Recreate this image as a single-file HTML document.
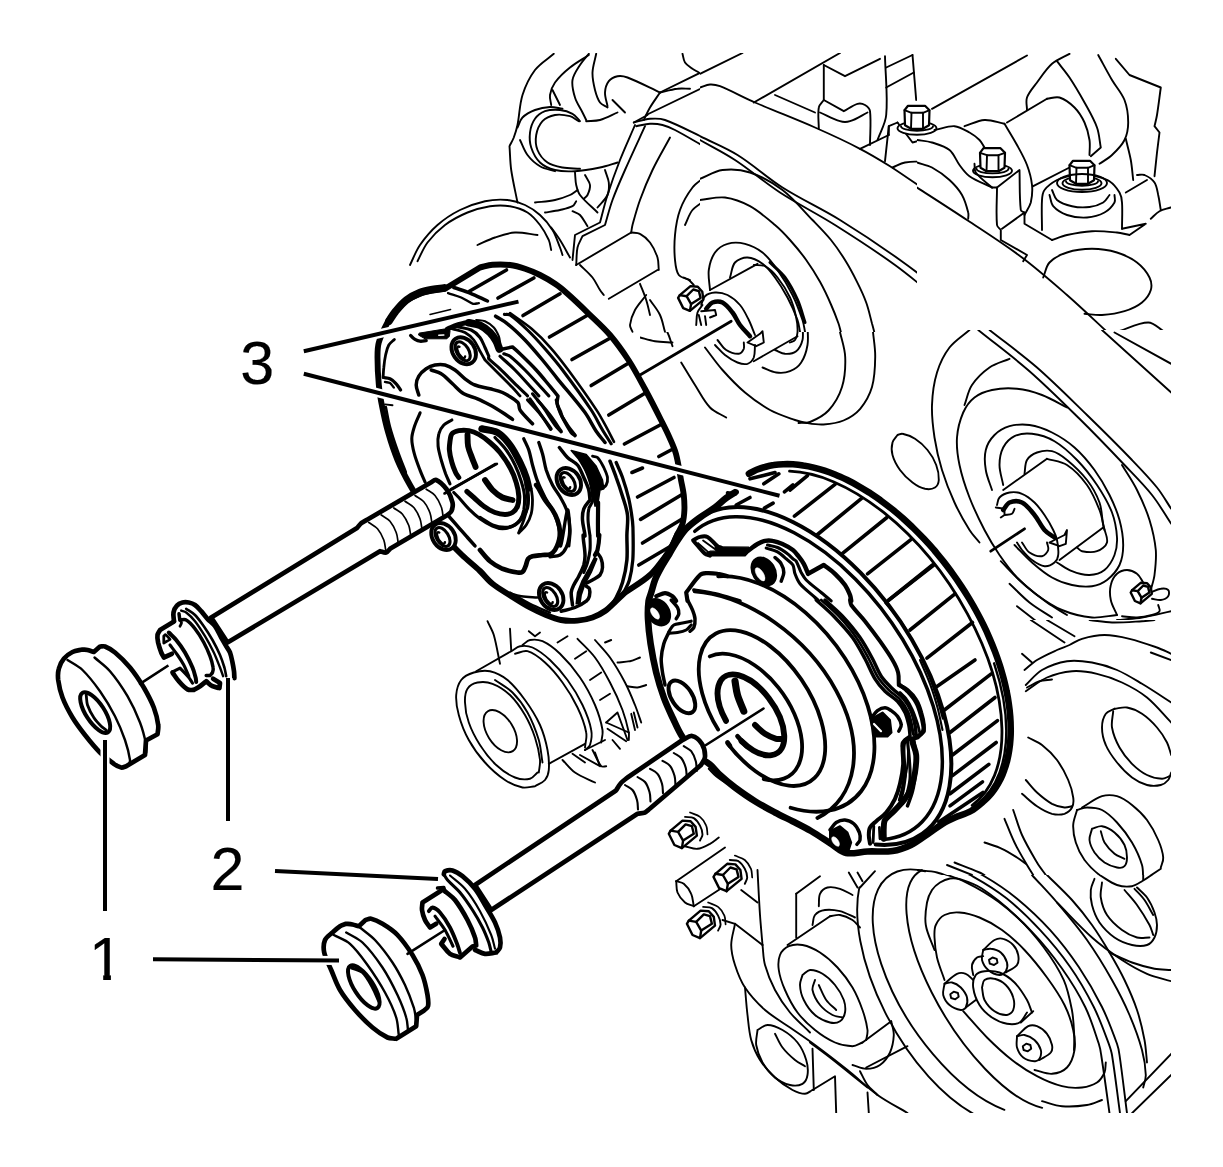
<!DOCTYPE html>
<html><head><meta charset="utf-8"><title>Camshaft sprocket illustration</title>
<style>
html,body{margin:0;padding:0;background:#fff;}
body{width:1223px;height:1167px;overflow:hidden;}
svg{display:block;}
svg text{font-family:"Liberation Sans",sans-serif;fill:#000;stroke:#000;stroke-width:0.15px;}
svg path,svg line,svg ellipse{stroke-linecap:round;stroke-linejoin:round;}
</style></head><body>
<svg width="1223" height="1167" viewBox="0 0 1223 1167">
<rect width="1223" height="1167" fill="#fff"/>
<clipPath id="frame"><rect x="0" y="53" width="1171" height="1060"/></clipPath>
<g clip-path="url(#frame)">
<clipPath id="c1"><rect x="380" y="40" width="320" height="300"/></clipPath>
<g clip-path="url(#c1)">
<path d="M553.8 53.8C547.5 59.2 539.9 63.5 535 70C529.5 77.3 525.3 86.2 522.5 95C519.5 104.6 519.5 115.1 517.5 125C516.6 129.3 515.3 133.4 513.8 137.5C512.6 140.5 510.9 143.3 509.5 146.2C510.1 154.2 510.1 162.2 511.2 170C512.8 180.9 515.4 191.7 517.5 202.5" fill="none" stroke="#000" stroke-width="1.9"/>
<path d="M517.5 127.5C519.2 124.2 520 120 522.5 117.5C525.8 114.2 530.5 111.7 535 110C539.7 108.2 545 107.2 550 107C554.1 106.8 558.3 108.2 562.5 108.8" fill="none" stroke="#000" stroke-width="1.9"/>
<path d="M580 121.2C577.5 118.8 575.5 115.4 572.5 113.8C568.8 111.7 564.3 110.4 560 110C555.1 109.6 549.6 109.7 545 111.2C541.2 112.6 537.3 115.5 535 118.8C532.3 122.6 530.6 127.8 530 132.5C529.4 137.4 529.7 142.9 531.2 147.5C533 152.9 536 158.7 540 162.5C543.9 166.2 549.7 168.7 555 170C561.4 171.6 568.4 171.6 575 171.2C583.4 170.8 591.8 169.2 600 167.5C605.9 166.3 611.7 164.2 617.5 162.5" fill="none" stroke="#000" stroke-width="1.9"/>
<path d="M578.8 121.2C575.8 119.6 573.2 117.1 570 116.2C565.3 115 559.8 114.1 555 115C550.6 115.8 545.5 118 542.5 121.2C539.3 124.7 537.1 130.2 536.2 135C535.4 139.8 535.7 145.6 537.5 150C539.4 154.7 543.3 159.6 547.5 162.5C551.6 165.4 557.4 166.5 562.5 167.5C568.2 168.6 574.2 168.3 580 168.8" fill="none" stroke="#000" stroke-width="1.9"/>
<path d="M520 140C522.5 145 524.2 150.6 527.5 155C530.8 159.4 535.3 163.5 540 166.2C544.4 168.9 550 169.6 555 171.2" fill="none" stroke="#000" stroke-width="1.9"/>
<path d="M588.8 53.8C585.8 57.5 582.5 61 580 65C577.1 69.7 573.3 74.7 572.5 80C571.6 85.6 573.3 91.9 575 97.5C576.6 102.8 580 107.5 582.5 112.5C583.8 115 585 117.5 586.2 120" fill="none" stroke="#000" stroke-width="1.9"/>
<path d="M588.8 55C582.5 59.2 575.8 62.8 570 67.5C564.5 71.9 559.1 76.9 555 82.5C552.4 86.1 550.7 90.7 550 95C549.5 98.2 550.8 101.7 551.2 105" fill="none" stroke="#000" stroke-width="1.9"/>
<path d="M596.2 53.8C595 60 592.7 66.2 592.5 72.5C592.3 78.3 593.6 84.3 595 90C596.1 94.3 597.5 99 600 102.5C601.7 104.8 605 105.8 607.5 107.5" fill="none" stroke="#000" stroke-width="1.9"/>
<path d="M552.5 90L560 105" fill="none" stroke="#000" stroke-width="1.9"/>
<path d="M586.2 121.2C590.8 120.8 595.6 121.2 600 120C606 118.3 611.7 115 617.5 112.5" fill="none" stroke="#000" stroke-width="1.9"/>
<path d="M607.5 106.2C606.7 101.7 604.8 97 605 92.5C605.2 88.7 606.5 84.2 608.8 81.2C610.7 78.8 614.4 76.9 617.5 76.2C620.6 75.6 624.4 76.3 627.5 77.5C638.6 81.7 649.2 87.5 660 92.5" fill="none" stroke="#000" stroke-width="1.9"/>
<path d="M612.5 100C615 102.5 617.5 105 620 107.5C621.7 109.2 623.3 110.8 625 112.5" fill="none" stroke="#000" stroke-width="1.9"/>
<path d="M682.5 53.8C683.3 56.7 683.4 60.1 685 62.5C686.7 65.1 689.9 66.8 692.5 68.8C694.5 70.2 696.7 71.2 698.8 72.5" fill="none" stroke="#000" stroke-width="1.9"/>
<path d="M660 92.5L705.8 70" fill="none" stroke="#000" stroke-width="1.9"/>
<path d="M660 92.5C656.7 97.5 653.1 102.3 650 107.5C647.6 111.5 645.8 115.8 643.8 120" fill="none" stroke="#000" stroke-width="1.9"/>
<path d="M660 92.5C665.8 91.2 671.6 89.5 677.5 88.8C681.6 88.2 685.8 88.8 690 88.8" fill="none" stroke="#000" stroke-width="1.9"/>
<path d="M646.2 115L705.8 86.2" fill="none" stroke="#000" stroke-width="1.9"/>
<path d="M633.8 122.5L647.5 115" fill="none" stroke="#000" stroke-width="1.9"/>
<path d="M633.8 122.5C639.2 121.2 644.5 119.2 650 118.8C654.9 118.4 660.3 118.3 665 120C678.9 125 692.2 132.5 705.8 138.8" fill="none" stroke="#000" stroke-width="1.9"/>
<path d="M636.2 126.2C640.8 125.4 645.4 124 650 123.8C654.1 123.6 658.5 124 662.5 125C666.8 126.1 671 127.9 675 130C685.4 135.4 695.5 141.7 705.8 147.5" fill="none" stroke="#000" stroke-width="1.9"/>
<path d="M635 125C630 136.7 624.6 148.2 620 160C615.5 171.5 611.3 183.2 607.5 195C604.6 204 602.5 213.3 600 222.5L575 235L572.5 260" fill="none" stroke="#000" stroke-width="1.9"/>
<path d="M645 126.2C638.3 140.8 631.5 155.3 625 170C620.6 179.9 616.2 189.8 612.5 200C609.5 208.2 607.5 216.7 605 225L582.5 236.2C580.8 240 578.4 243.5 577.5 247.5C576.3 253.1 576.7 259.2 576.2 265" fill="none" stroke="#000" stroke-width="1.9"/>
<path d="M670 137.5C664.2 148.3 657.8 158.9 652.5 170C647.8 179.8 643.7 189.8 640 200C637 208.2 634.8 216.6 632.5 225C631.8 227.4 631.7 230 631.2 232.5" fill="none" stroke="#000" stroke-width="1.9"/>
<path d="M576.2 265L631.2 232.5" fill="none" stroke="#000" stroke-width="1.9"/>
<path d="M631.2 232.5C634.2 232.9 637.5 232.4 640 233.8C643.8 235.8 647.4 239 650 242.5C653.3 246.9 655.8 252.3 657.5 257.5C658.7 261.4 658.3 265.8 658.8 270" fill="none" stroke="#000" stroke-width="1.9"/>
<path d="M608.8 298.8L657.5 270" fill="none" stroke="#000" stroke-width="1.9"/>
<path d="M580 265C584.2 269.2 588.8 272.9 592.5 277.5C595.5 281.3 597.4 285.9 600 290C601.1 291.8 602.5 293.3 603.8 295" fill="none" stroke="#000" stroke-width="1.9"/>
<path d="M575 172.5C575.4 176.7 575.3 180.9 576.2 185C577 188.4 577.9 192.2 580 195C584.9 201.4 591.7 206.7 597.5 212.5" fill="none" stroke="#000" stroke-width="1.9"/>
<path d="M585 175C586.7 178.3 589.6 181.5 590 185C590.4 188.2 588.9 192 587.5 195C586.8 196.6 585 197.5 583.8 198.8" fill="none" stroke="#000" stroke-width="1.9"/>
<path d="M605 170C606.2 174.2 608.3 178.3 608.8 182.5C609.2 186.6 609.1 191.3 607.5 195C605.4 199.7 600.8 203.3 597.5 207.5" fill="none" stroke="#000" stroke-width="1.9"/>
<path d="M535 202.5C541.7 201.7 548.5 201.4 555 200C560.1 198.9 565.2 197.1 570 195C572.7 193.8 575 191.7 577.5 190" fill="none" stroke="#000" stroke-width="1.9"/>
<path d="M545 212.5C550 211.7 555.1 211.1 560 210C564.2 209 568.8 208.2 572.5 206.2C574.3 205.3 575 202.9 576.2 201.2" fill="none" stroke="#000" stroke-width="1.9"/>
<path d="M572.5 211.2C575 212.5 578.1 213.1 580 215C583.1 218.1 585 222.5 587.5 226.2" fill="none" stroke="#000" stroke-width="1.9"/>
<path d="M410 265C413.3 258.3 415.8 251.1 420 245C425 237.8 430.9 230.8 437.5 225C444.2 219.1 452 214 460 210C467.8 206.1 476.4 203.1 485 201.2C492.3 199.7 500.1 199.3 507.5 200C513.5 200.6 519.6 202.5 525 205C530.4 207.5 535.6 211 540 215C544.8 219.3 549.1 224.5 552.5 230C555.8 235.3 557.6 241.6 560 247.5C561 249.9 561.7 252.5 562.5 255" fill="none" stroke="#000" stroke-width="1.9"/>
<path d="M417.5 261.2C420.8 255 423.3 248.1 427.5 242.5C432.4 236 438.5 229.9 445 225C451.8 219.9 459.6 215.8 467.5 212.5C474.6 209.5 482.4 207.4 490 206.2C496.5 205.3 503.5 205.2 510 206.2C516 207.3 522.4 209.3 527.5 212.5C532.4 215.5 536.4 220.4 540 225C543.5 229.5 546.4 234.8 548.8 240C550.1 243.1 550.4 246.7 551.2 250" fill="none" stroke="#000" stroke-width="1.9"/>
<path d="M477.5 245C483.3 242.5 489 239.5 495 237.5C501.5 235.3 508.2 232.9 515 232.5C522.4 232.1 530 234.2 537.5 235" fill="none" stroke="#000" stroke-width="1.9"/>
<path d="M551.2 227.5C554.2 231.7 557.3 235.7 560 240C563.6 245.7 566.7 251.7 570 257.5" fill="none" stroke="#000" stroke-width="1.9"/>
<path d="M705.8 176.2C701.3 180 696 183 692.5 187.5C687.4 194.2 682.9 202 680 210C677.1 217.9 675.8 226.6 675 235C674.2 243.3 674.2 251.8 675 260C675.5 265.1 676 271.3 678.8 275C681 278 686.2 278.3 690 280" fill="none" stroke="#000" stroke-width="1.9"/>
<path d="M705.8 200C701.3 203.3 695.9 205.9 692.5 210C689 214.2 687.5 220 685 225" fill="none" stroke="#000" stroke-width="1.9"/>
<path d="M640 283.8C642.1 289.2 644.5 294.5 646.2 300C647.8 304.9 648.8 310 650 315" fill="none" stroke="#000" stroke-width="1.9"/>
<path d="M646.2 295C642.5 300 637.9 304.6 635 310C632.5 314.6 630.6 320 630 325C629.7 327.3 631.7 329.5 632.5 331.8" fill="none" stroke="#000" stroke-width="1.9"/>
<path d="M650 300C653.3 305 657.5 309.6 660 315C662.5 320.2 663.3 326.2 665 331.8" fill="none" stroke="#000" stroke-width="1.9"/>
</g>
<clipPath id="c2"><rect x="700" y="40" width="217" height="292"/></clipPath>
<g clip-path="url(#c2)">
<path d="M700 73.8L742.5 53" fill="none" stroke="#000" stroke-width="1.9"/>
<path d="M700 87.5C703.3 86.5 706.6 84.7 710 84.5C713.3 84.3 716.9 85 720 86.2C731.9 91 743.2 97.4 755 102.5C774.9 111.1 795.2 118.8 815 127.5C830.2 134.2 845.3 141.1 860 148.8C870.3 154.1 880.2 160.1 890 166.2C901.9 173.8 913.4 182 925 190C938.4 199.1 952 207.9 965 217.5C978.9 227.9 992.2 239.2 1005.8 250" fill="none" stroke="#000" stroke-width="1.9"/>
<path d="M753.8 102.5L840 53" fill="none" stroke="#000" stroke-width="1.9"/>
<path d="M775 95L815 112.5" fill="none" stroke="#000" stroke-width="1.9"/>
<path d="M700 136.2C712.5 142.5 725.7 147.6 737.5 155C753.2 164.7 766.9 177.6 782.5 187.5C801.1 199.3 821.3 208.4 840 220C860.4 232.6 880.5 246 900 260C915.5 271 930.5 282.7 945 295C958.7 306.6 971.3 319.5 984.5 331.8" fill="none" stroke="#000" stroke-width="1.9"/>
<path d="M700 140C711.7 146.7 723.8 152.6 735 160C750.4 170.1 764.5 182.4 780 192.5C797.8 204.1 817 213.6 835 225C855.3 237.8 875.6 250.9 895 265C910.6 276.3 925.3 288.9 940 301.2C951.8 311.1 963 321.6 974.5 331.8" fill="none" stroke="#000" stroke-width="1.9"/>
<path d="M823.8 65L823.8 100" fill="none" stroke="#000" stroke-width="1.9"/>
<path d="M823.8 65L845 76.2L880 58.8" fill="none" stroke="#000" stroke-width="1.9"/>
<path d="M885 56.2C885.4 75.8 888 95.8 886.2 115C885.5 123.7 880.4 131.7 877.5 140" fill="none" stroke="#000" stroke-width="1.9"/>
<path d="M886.2 67.5L912.5 55" fill="none" stroke="#000" stroke-width="1.9"/>
<path d="M886.2 87.5L913.8 72.5" fill="none" stroke="#000" stroke-width="1.9"/>
<path d="M912.5 55L916.2 100" fill="none" stroke="#000" stroke-width="1.9"/>
<path d="M818.8 128.8C818.8 121.7 817.6 114.2 818.8 107.5C819.2 104.6 822.1 102.5 823.8 100L843.8 111.2C848.3 108.8 852.7 105.2 857.5 103.8C859.8 103.1 863 103.8 865 105C867.1 106.3 869.7 108.7 870 111.2C871.3 122 870 133.8 870 145" fill="none" stroke="#000" stroke-width="1.9"/>
<path d="M820 112.5C826.7 115.4 833.1 119.2 840 121.2C843.1 122.2 846.9 122.2 850 121.2C856.1 119.3 861.7 115.4 867.5 112.5" fill="none" stroke="#000" stroke-width="1.9"/>
<path d="M860 148.8L888.8 135" fill="none" stroke="#000" stroke-width="1.9"/>
<path d="M888.8 135L888.8 126.2L897.5 122.5" fill="none" stroke="#000" stroke-width="1.9"/>
<path d="M888.8 126.2L885 161.2" fill="none" stroke="#000" stroke-width="1.9"/>
<path d="M897.5 122.5L912.5 142.5C918.3 141.2 924.4 138 930 138.8C936.9 139.7 944.5 143.2 950 147.5C954.5 151.1 956.3 157.8 960 162.5C962.9 166.2 966.1 169.9 970 172.5C977.8 177.8 986.7 181.7 995 186.2L1005.8 180" fill="none" stroke="#000" stroke-width="1.9"/>
<path d="M935 128.8C942.5 127.9 950.2 125.5 957.5 126.2C962.7 126.8 968.3 129.4 972.5 132.5C976.6 135.6 979.4 140.7 982.5 145C983.6 146.5 984.2 148.3 985 150" fill="none" stroke="#000" stroke-width="1.9"/>
<path d="M965 126.2C970.8 124.2 976.5 120.4 982.5 120C990.1 119.5 998 122.5 1005.8 123.8" fill="none" stroke="#000" stroke-width="1.9"/>
<path d="M932.5 110L1005.8 67.5" fill="none" stroke="#000" stroke-width="1.9"/>
<path d="M892.5 167.5C896.7 165.8 900.7 163.2 905 162.5C910.7 161.6 917.1 161 922.5 162.5C928.7 164.3 934.8 168.4 940 172.5C946.4 177.6 952.4 183.6 957.5 190C961.6 195.2 965.2 201.3 967.5 207.5C968.9 211.3 968.3 215.8 968.8 220" fill="none" stroke="#000" stroke-width="1.9"/>
<path d="M996.2 186.2C996.2 199.2 993.8 213.6 996.2 225C996.9 228.2 1002.6 228.3 1005.8 230" fill="none" stroke="#000" stroke-width="1.9"/>
<path d="M700 178.8C707.5 175.8 714.7 171 722.5 170C731.4 168.9 741.4 169.6 750 172.5C761.4 176.3 772.8 182.6 782.5 190C793.6 198.5 802.7 209.9 812.5 220C818.8 226.5 825.3 233 831 240C836.1 246.3 840.7 253.1 845 260C849.4 267 853.3 274.4 857 281.8C860.4 288.5 863.7 295.4 866.2 302.5C868.7 309.3 870.1 316.5 872 323.5C872.8 326.2 873.5 329 874.2 331.8" fill="none" stroke="#000" stroke-width="1.9"/>
<path d="M700 200C708.3 199.2 716.9 196.5 725 197.5C733.6 198.6 742.4 202 750 206.2C759 211.2 767.1 218.3 775 225C780.4 229.5 785.3 234.7 790 240C795.7 246.4 801.2 253 806.2 260C811.2 267 815.8 274.3 820 281.8C824.2 289.3 827.8 297.1 831.2 305C833.9 311.1 836.3 317.3 838.5 323.5C839.5 326.2 840 329 840.8 331.8" fill="none" stroke="#000" stroke-width="1.9"/>
<path d="M710 290C709.6 283.3 707.9 276.5 708.8 270C709.6 264 711.6 257.3 715 252.5C717.8 248.6 722.8 245.1 727.5 243.8C732.8 242.2 739.5 242.4 745 243.8C751.2 245.3 757.5 248.5 762.5 252.5C768.4 257.2 773.1 263.7 777.5 270C783.1 277.9 788.2 286.3 792.5 295C796.5 303 799.6 311.5 802.5 320C803.8 323.8 804.2 327.8 805 331.8" fill="none" stroke="#000" stroke-width="1.9"/>
<path d="M730 277.5C731.7 272.5 731.8 266.1 735 262.5C737.7 259.4 743.3 257.3 747.5 257.5C752.5 257.7 758.2 260.6 762.5 263.8C767.4 267.3 771.3 272.5 775 277.5C779.7 283.8 783.8 290.6 787.5 297.5C791.3 304.7 794.7 312.3 797.5 320C798.9 323.7 799.2 327.8 800 331.8" fill="none" stroke="#000" stroke-width="1.9"/>
<path d="M710 290L757.5 263.8" fill="none" stroke="#000" stroke-width="1.9"/>
</g>
<ellipse cx="917" cy="128.2" rx="19.5" ry="6.5" transform="rotate(0 917 128.2)" fill="#fff" stroke="#000" stroke-width="1.9"/>
<path d="M901 126.2A16 4.6 0 0 0 933 126.2" fill="none" stroke="#000" stroke-width="1.9"/>
<path d="M905 125.2L904.5 110.2L908 105.8L925 105.8L929.5 110.2L929 125.2L923 128.8L911 128.8Z" fill="#fff" stroke="#000" stroke-width="2.2"/>
<path d="M904.5 110.2L911.5 112.8L923 112.8L929.5 110.2" fill="none" stroke="#000" stroke-width="1.9"/>
<path d="M911.5 112.8L911 128.8" fill="none" stroke="#000" stroke-width="1.9"/>
<path d="M923 112.8L923 128.8" fill="none" stroke="#000" stroke-width="1.9"/>
<ellipse cx="992.5" cy="170.8" rx="19.5" ry="6.5" transform="rotate(0 992.5 170.8)" fill="#fff" stroke="#000" stroke-width="1.9"/>
<path d="M976.5 168.8A16 4.6 0 0 0 1008.5 168.8" fill="none" stroke="#000" stroke-width="1.9"/>
<path d="M980.5 167.8L980 152.8L983.5 148.2L1000.5 148.2L1005 152.8L1004.5 167.8L998.5 171.2L986.5 171.2Z" fill="#fff" stroke="#000" stroke-width="2.2"/>
<path d="M980 152.8L987 155.2L998.5 155.2L1005 152.8" fill="none" stroke="#000" stroke-width="1.9"/>
<path d="M987 155.2L986.5 171.2" fill="none" stroke="#000" stroke-width="1.9"/>
<path d="M998.5 155.2L998.5 171.2" fill="none" stroke="#000" stroke-width="1.9"/>
<clipPath id="c3"><rect x="917" y="40" width="306" height="290"/></clipPath>
<g clip-path="url(#c3)">
<path d="M932 108.8L1027 55.5" fill="none" stroke="#000" stroke-width="1.9"/>
<path d="M917 140C922 140.8 927.2 141 932 142.5C938 144.4 944.8 146.1 949.5 150C954 153.6 955.9 160.2 959.5 165C962.5 169 965.4 173.4 969.5 176.2C976.3 180.9 984.5 183.8 992 187.5" fill="none" stroke="#000" stroke-width="1.9"/>
<path d="M964.5 126.2C971.2 124.2 977.7 120.4 984.5 120C991.1 119.6 997.8 122.5 1004.5 123.8" fill="none" stroke="#000" stroke-width="1.9"/>
<path d="M934.5 130C941.2 128.8 948 125.8 954.5 126.2C959.7 126.6 964.8 129.9 969.5 132.5C973.1 134.5 976.6 137.1 979.5 140C981.6 142.1 982.8 145 984.5 147.5" fill="none" stroke="#000" stroke-width="1.9"/>
<path d="M917 187.5C933.7 198.3 950.5 209 967 220C985.5 232.3 1004.3 244.2 1022 257.5C1037.6 269.2 1052.3 282.2 1067 295C1080.6 306.9 1093.7 319.5 1107 331.8" fill="none" stroke="#000" stroke-width="1.9"/>
<path d="M917 162.5C922 164.2 927.4 165 932 167.5C938.2 170.9 944.3 175.2 949.5 180C954.3 184.4 958.8 189.4 962 195C965 200.3 966.7 206.6 968.2 212.5C968.8 214.5 968.2 216.7 968.2 218.8" fill="none" stroke="#000" stroke-width="1.9"/>
<path d="M992 187.5L997 187.5C997 200 995.9 212.9 997 225C997.2 227 999.5 228.3 1000.8 230L1000.8 240L1027 255L1023.2 261.2" fill="none" stroke="#000" stroke-width="1.9"/>
<path d="M997 187.5L1019.5 170C1019.9 183.3 1019.3 197.3 1020.8 210C1020.9 211.4 1023.2 211.7 1024.5 212.5" fill="none" stroke="#000" stroke-width="1.9"/>
<path d="M1002 228.8L1024.5 212.5L1024.5 223.8L1052 240" fill="none" stroke="#000" stroke-width="1.9"/>
<path d="M974.5 163.8C974.9 166.7 974.1 170.2 975.8 172.5C979.9 178.2 986.6 182.5 992 187.5" fill="none" stroke="#000" stroke-width="1.9"/>
<path d="M1004.5 123.8C1008.7 130.8 1013.1 137.8 1017 145C1020.6 151.5 1024.4 158.1 1027 165C1029.4 171.4 1031.3 178.2 1032 185C1032.6 190.7 1032.1 196.9 1030.8 202.5C1029.6 206.9 1026.6 210.8 1024.5 215" fill="none" stroke="#000" stroke-width="1.9"/>
<path d="M1007 122.5L1047 98.8" fill="none" stroke="#000" stroke-width="1.9"/>
<path d="M1047 98.8C1051.2 98.3 1055.7 96.3 1059.5 97.5C1064.9 99.2 1070.3 103.3 1074.5 107.5C1078.7 111.7 1082 117.1 1084.5 122.5C1087 127.9 1088.6 134.1 1089.5 140C1090.3 144.9 1089.5 150 1089.5 155" fill="none" stroke="#000" stroke-width="1.9"/>
<path d="M1033.2 186.2L1069.5 167.5" fill="none" stroke="#000" stroke-width="1.9"/>
<path d="M1027 110C1027 105.8 1025.6 101.3 1027 97.5C1029 92.1 1033.4 87.3 1037 82.5C1041.8 76.1 1046.1 69 1052 63.8C1056.9 59.4 1063.7 57.1 1069.5 53.8" fill="none" stroke="#000" stroke-width="1.9"/>
<path d="M1057 61.2C1061.2 66.7 1065.7 71.8 1069.5 77.5C1074.9 85.6 1079.8 94 1084.5 102.5C1089 110.7 1093.9 118.8 1097 127.5C1099.3 133.8 1099.5 140.8 1100.8 147.5L1090.8 156.2" fill="none" stroke="#000" stroke-width="1.9"/>
<path d="M1098.2 55C1102.8 63.3 1107.2 71.8 1112 80C1116 86.8 1121.7 92.8 1124.5 100C1127.2 107 1128.2 115 1128.2 122.5C1128.2 128.4 1127.1 134.8 1124.5 140C1121.7 145.7 1116.7 150.6 1112 155C1108.3 158.5 1103.7 160.8 1099.5 163.8" fill="none" stroke="#000" stroke-width="1.9"/>
<path d="M1115.8 58.8L1129.5 75L1160.8 87.5C1159.5 96.7 1158.5 105.9 1157 115C1156.4 118.8 1155.3 122.5 1154.5 126.2L1159.5 132.5C1158.7 139.2 1157.8 145.8 1157 152.5C1156.1 160.4 1155.3 168.3 1154.5 176.2" fill="none" stroke="#000" stroke-width="1.9"/>
<path d="M1125.8 138.8C1127.4 145.8 1129.5 152.9 1130.8 160C1132 166.6 1132.4 173.3 1133.2 180" fill="none" stroke="#000" stroke-width="1.9"/>
<path d="M1125.8 192.5L1147 180" fill="none" stroke="#000" stroke-width="1.9"/>
<path d="M1137 175C1139.5 175 1142.3 174.1 1144.5 175C1148.1 176.6 1152.3 179.2 1154.5 182.5C1156.8 185.9 1157.3 190.8 1158.2 195C1159.4 199.9 1159.9 205 1160.8 210" fill="none" stroke="#000" stroke-width="1.9"/>
<path d="M1150.8 218.8C1153.7 216.2 1156.2 213.1 1159.5 211.2C1162.9 209.3 1167 208.8 1170.8 207.5" fill="none" stroke="#000" stroke-width="1.9"/>
<path d="M1042 230C1042 220 1041.4 209.9 1042 200C1042.2 196.6 1042.5 192.6 1044.5 190C1047.5 185.9 1052.4 182.5 1057 180C1061.6 177.5 1067 176.7 1072 175" fill="none" stroke="#000" stroke-width="1.9"/>
<path d="M1092 175C1097.8 177.1 1104.4 178 1109.5 181.2C1113.6 183.9 1117 188.3 1119.5 192.5C1121.2 195.4 1121.8 199.1 1122 202.5C1122.6 211.2 1122 220 1122 228.8" fill="none" stroke="#000" stroke-width="1.9"/>
<path d="M1049.5 195C1050.8 198.8 1050.8 203.4 1053.2 206.2C1056.6 210.1 1062 213.3 1067 215C1073.2 217.1 1080.4 217.9 1087 217.5C1092.9 217.1 1099.3 215.3 1104.5 212.5C1108.5 210.3 1112.3 206.3 1114.5 202.5C1115.7 200.5 1114.5 197.5 1114.5 195" fill="none" stroke="#000" stroke-width="1.9"/>
<path d="M1052 190C1053.7 193.3 1054.3 197.8 1057 200C1060.9 203.2 1066.8 205.1 1072 206.2C1077.6 207.5 1083.8 207.7 1089.5 207C1094.2 206.4 1099.3 204.9 1103.2 202.5C1105.9 200.9 1107.4 197.5 1109.5 195" fill="none" stroke="#000" stroke-width="1.9"/>
<path d="M1052 240C1057 238.3 1061.9 236.1 1067 235C1075.2 233.2 1083.6 231.7 1092 231.2C1100.3 230.8 1108.7 231.7 1117 232.5C1121.2 232.9 1125.3 234.2 1129.5 235L1145.8 223.8L1122 228.8" fill="none" stroke="#000" stroke-width="1.9"/>
<path d="M1043.2 277.5C1045.3 272.5 1046 266.2 1049.5 262.5C1053.9 257.9 1060.7 254.5 1067 252.5C1074.9 249.9 1083.7 248.8 1092 248.8C1100.3 248.8 1109 250.1 1117 252.5C1124 254.7 1131.2 258.1 1137 262.5C1142.1 266.4 1146.7 271.9 1149.5 277.5C1151.3 281.1 1151.9 286.2 1150.8 290C1149.4 294.6 1145.8 299.4 1142 302.5C1137.1 306.5 1130.7 309.3 1124.5 311.2C1117.3 313.5 1109.5 314.5 1102 315C1096.2 315.4 1090.3 314.2 1084.5 313.8" fill="none" stroke="#000" stroke-width="1.9"/>
<path d="M1117 331.8C1127.4 328.7 1138.2 322.5 1148.2 322.5C1154 322.5 1159.1 328.7 1164.5 331.8" fill="none" stroke="#000" stroke-width="1.9"/>
</g>
<ellipse cx="1082" cy="183.2" rx="19.5" ry="6.5" transform="rotate(0 1082 183.2)" fill="#fff" stroke="#000" stroke-width="1.9"/>
<path d="M1066 181.2A16 4.6 0 0 0 1098 181.2" fill="none" stroke="#000" stroke-width="1.9"/>
<path d="M1070 180.2L1069.5 165.2L1073 160.8L1090 160.8L1094.5 165.2L1094 180.2L1088 183.8L1076 183.8Z" fill="#fff" stroke="#000" stroke-width="2.2"/>
<path d="M1069.5 165.2L1076.5 167.8L1088 167.8L1094.5 165.2" fill="none" stroke="#000" stroke-width="1.9"/>
<path d="M1076.5 167.8L1076 183.8" fill="none" stroke="#000" stroke-width="1.9"/>
<path d="M1088 167.8L1088 183.8" fill="none" stroke="#000" stroke-width="1.9"/>
<ellipse cx="1082" cy="183" rx="25" ry="9" transform="rotate(0 1082 183)" fill="none" stroke="#000" stroke-width="1.9"/>
<clipPath id="c4"><rect x="917" y="330" width="306" height="290"/></clipPath>
<g clip-path="url(#c4)">
<path d="M978.2 330C995.3 343.8 1013 356.8 1029.5 371.2C1046.8 386.4 1063.1 402.6 1079.5 418.8C1094.8 433.9 1109.7 449.4 1124.5 465C1133.8 474.8 1143.6 484.4 1152 495C1159.2 504 1164.8 514.2 1171.2 523.8" fill="none" stroke="#000" stroke-width="1.9"/>
<path d="M989.5 330C1005.3 342.5 1021.8 354.3 1037 367.5C1054.3 382.6 1070.5 399 1087 415C1102.2 429.8 1117.3 444.7 1132 460C1140.6 468.9 1149.3 477.9 1157 487.5C1162.3 494.1 1166.5 501.7 1171.2 508.8" fill="none" stroke="#000" stroke-width="1.9"/>
<path d="M1102 330L1171.2 392.5" fill="none" stroke="#000" stroke-width="1.9"/>
<path d="M1114.5 332.5L1171.2 363.8" fill="none" stroke="#000" stroke-width="1.9"/>
<path d="M969.5 330C962.8 335.8 954.8 340.6 949.5 347.5C943.9 354.8 939.7 363.7 937 372.5C933.8 382.9 932.4 394.1 932 405C931.6 415.8 932.9 426.8 934.5 437.5C936.2 448.5 938.7 459.4 942 470C945.4 481.1 949.7 492 954.5 502.5C958.8 512 964 521.2 969.5 530C972.3 534.5 976.2 538.3 979.5 542.5" fill="none" stroke="#000" stroke-width="1.9"/>
<path d="M1067 407.5C1058.7 403.3 1050.7 398.3 1042 395C1034 392 1025.5 389.6 1017 388.8C1008.8 387.9 1000 388.3 992 390C985.9 391.3 979.3 393.7 974.5 397.5C969.7 401.2 965.7 406.9 963.2 412.5C959.9 420.2 957.6 429.1 957 437.5C956.4 446.6 957.6 456 959.5 465C961.8 476 965.4 486.9 969.5 497.5C973.8 508.6 979 519.4 984.5 530C989 538.6 994 547 999.5 555C1004.9 562.8 1010.5 570.6 1017 577.5C1023 583.9 1029.8 589.8 1037 595C1044.8 600.7 1053.1 606.4 1062 610C1071.4 613.9 1081.9 616.6 1092 617.5C1100.2 618.2 1108.7 615.8 1117 615" fill="none" stroke="#000" stroke-width="1.9"/>
<path d="M1009.5 358.8C1002.8 361.7 995.4 363.4 989.5 367.5C982.9 372.1 976.5 378.3 972 385C968.1 390.8 967 398.3 964.5 405" fill="none" stroke="#000" stroke-width="1.9"/>
<path d="M1122 465C1127 473.3 1132.7 481.3 1137 490C1141.8 499.7 1146.3 509.7 1149.5 520C1152.5 529.7 1154.8 539.9 1155.8 550C1156.5 558.2 1155.5 566.8 1154.5 575C1153.9 580.1 1152 585 1150.8 590" fill="none" stroke="#000" stroke-width="1.9"/>
<path d="M992 490C989.9 483.3 986.8 476.8 985.8 470C984.7 463.5 984.2 456.2 985.8 450C987.1 444.6 990.5 439 994.5 435C998.5 431 1004.1 427.8 1009.5 426.2C1015.8 424.5 1023 424 1029.5 425C1037.2 426.1 1045 429 1052 432.5C1060 436.5 1067.8 441.6 1074.5 447.5C1082 454.1 1088.6 462 1094.5 470C1100.2 477.8 1105.2 486.3 1109.5 495C1113.5 503 1117.1 511.4 1119.5 520C1121.7 528.1 1123.2 536.7 1123.2 545C1123.2 551.7 1122.3 559 1119.5 565C1116.8 570.7 1112 576.1 1107 580C1102.8 583.2 1097.2 585.5 1092 586.2C1085.6 587.2 1078.5 586.4 1072 585C1065.1 583.5 1058.1 581 1052 577.5C1044.8 573.5 1038.3 567.9 1032 562.5C1025.8 557.1 1020.3 550.8 1014.5 545" fill="none" stroke="#000" stroke-width="1.9"/>
<path d="M1003.2 485C1002 478.3 999.5 471.7 999.5 465C999.5 459.2 1000.6 452.6 1003.2 447.5C1005.6 443 1010 438.4 1014.5 436.2C1019.5 433.8 1026.3 433 1032 433.8C1039.6 434.7 1047.8 437.3 1054.5 441.2C1062.8 446.1 1070.2 453 1077 460C1084.4 467.6 1091.1 476.2 1097 485C1102.8 493.7 1108.3 502.9 1112 512.5C1115 520.4 1116.5 529.1 1117 537.5C1117.3 543.3 1116.6 549.6 1114.5 555C1112.4 560.5 1108.9 566.4 1104.5 570C1100.6 573.1 1094.6 574.8 1089.5 575C1083.7 575.2 1077.5 573.4 1072 571.2C1066.7 569.2 1062 565.4 1057 562.5" fill="none" stroke="#000" stroke-width="1.9"/>
<path d="M1024.5 473.8C1025.3 469.2 1024.8 463.7 1027 460C1029 456.7 1033.2 453.8 1037 452.5C1041.6 450.9 1047.4 450.1 1052 451.2C1057.4 452.6 1062.6 456.4 1067 460C1074.2 465.9 1081.3 472.6 1087 480C1092.2 486.7 1096.6 494.5 1099.5 502.5C1102 509.5 1101.8 517.5 1103.2 525C1104.3 530.9 1108.2 537.5 1107 542.5C1106.1 546.2 1100.9 549.9 1097 551.2C1092.6 552.8 1086.7 552.1 1082 551.2C1080 550.9 1078.7 548.8 1077 547.5" fill="none" stroke="#000" stroke-width="1.9"/>
<path d="M1047 458.8C1053.7 460.8 1061.3 461.3 1067 465C1074.7 470 1081.6 477.5 1087 485C1092.4 492.5 1096.1 501.4 1099.5 510C1102 516.4 1102.8 523.3 1104.5 530" fill="none" stroke="#000" stroke-width="1.9"/>
<path d="M1003.2 490L1047 458.8" fill="none" stroke="#000" stroke-width="1.9"/>
<path d="M1059.5 560L1103.2 527.5" fill="none" stroke="#000" stroke-width="1.9"/>
<path d="M997 505C997.8 502.5 997.8 499.2 999.5 497.5C1001.9 495.1 1006 493.1 1009.5 492.5C1013.5 491.8 1018.2 492.2 1022 493.8C1026.6 495.6 1030.8 499 1034.5 502.5C1038.3 506.1 1041.5 510.6 1044.5 515C1047.8 519.8 1050.7 524.8 1053.2 530C1054.8 533.2 1056.3 536.5 1057 540C1058 544.9 1058.8 550.2 1058.2 555C1058 557.7 1056.5 560.9 1054.5 562.5C1051.9 564.6 1047.7 566.6 1044.5 566.2C1040.2 565.8 1035.7 562.7 1032 560C1028.2 557.3 1025.1 553.6 1022 550C1020.1 547.7 1018.7 545 1017 542.5" fill="none" stroke="#000" stroke-width="1.9"/>
<path d="M1022 542.5C1024.5 545.8 1026.2 550.3 1029.5 552.5C1032.9 554.8 1038.3 556.7 1042 556.2C1044.5 555.9 1047.4 552.5 1048.2 550C1049 547.9 1047.4 545 1047 542.5" fill="none" stroke="#000" stroke-width="1.9"/>
<path d="M1003.2 510C1005.3 507.5 1006.8 503.6 1009.5 502.5C1013 501.1 1018.5 500.8 1022 502.5C1026.9 504.9 1030.8 510.5 1034.5 515C1038.3 519.6 1040.6 525.6 1044.5 530C1047.2 533.1 1051.2 535 1054.5 537.5" fill="none" stroke="#000" stroke-width="4.5"/>
<path d="M995.8 507.5L1004.5 508.8L1004.5 515L1000.8 517.5" fill="none" stroke="#000" stroke-width="1.9"/>
<path d="M1004.5 515C1007 514.6 1010.1 515 1012 513.8C1013.4 512.9 1013.7 510.4 1014.5 508.8" fill="none" stroke="#000" stroke-width="1.9"/>
<path d="M1049.5 542.5L1064.5 535L1067 530L1065.8 543.8L1059.5 546.2L1049.5 542.5" fill="none" stroke="#000" stroke-width="1.9"/>
<path d="M990.8 551.2L1024.5 528.8" fill="none" stroke="#000" stroke-width="2.8"/>
<path d="M1000.8 561.2C1007.8 568.3 1014.5 575.8 1022 582.5C1030 589.6 1038.4 596.3 1047 602.5C1053.4 607.1 1060.3 610.8 1067 615" fill="none" stroke="#000" stroke-width="1.9"/>
<path d="M1009.5 583.8C1016.2 590 1022.4 596.8 1029.5 602.5C1036.5 608.1 1044.5 612.5 1052 617.5" fill="none" stroke="#000" stroke-width="1.9"/>
<path d="M1017 606.2L1037 621.8" fill="none" stroke="#000" stroke-width="1.9"/>
<path d="M1117 615C1114.9 610 1111.8 605.2 1110.8 600C1109.8 595.2 1109.6 589.7 1110.8 585C1111.7 581 1114 576.5 1117 573.8C1119.5 571.5 1123.7 570 1127 570C1130.3 570 1134.3 571.7 1137 573.8C1139.7 575.8 1141.2 579.6 1143.2 582.5" fill="none" stroke="#000" stroke-width="1.9"/>
<path d="M1158.2 605C1158.7 607.1 1160.4 609.8 1159.5 611.2C1158.3 613.1 1154.7 614.3 1152 615C1147.2 616.3 1142 617.3 1137 617.5C1132 617.7 1127 616.7 1122 616.2" fill="none" stroke="#000" stroke-width="1.9"/>
<path d="M1150.8 592.5C1154.1 591.2 1157.3 589.2 1160.8 588.8C1163.2 588.4 1166.9 588.6 1168.2 590C1169.4 591.1 1169.3 594.8 1168.2 596.2C1166.8 598.2 1163.4 599.6 1160.8 600C1158 600.4 1154.9 599.2 1152 598.8" fill="none" stroke="#000" stroke-width="1.9"/>
<path d="M1117 620C1125.3 619.2 1133.7 618.8 1142 617.5C1151.8 615.9 1161.5 613.3 1171.2 611.2" fill="none" stroke="#000" stroke-width="1.9"/>
</g>
<clipPath id="c5"><rect x="917" y="620" width="306" height="255"/></clipPath>
<g clip-path="url(#c5)">
<path d="M1030.8 620L1064.5 642.5" fill="none" stroke="#000" stroke-width="1.9"/>
<path d="M1047 620L1074.5 636.2" fill="none" stroke="#000" stroke-width="1.9"/>
<path d="M1089.5 620C1097 620.8 1104.5 622.3 1112 622.5C1122 622.7 1132 621.8 1142 621.2C1146.2 621 1150.3 620.4 1154.5 620" fill="none" stroke="#000" stroke-width="1.9"/>
<path d="M1024.5 670C1028.7 666.7 1032.5 662.8 1037 660C1043.3 656.1 1050.2 653.1 1057 650C1061.1 648.1 1065.4 646.8 1069.5 645C1073.7 643.1 1077.6 640 1082 638.8C1089.2 636.7 1097 635 1104.5 635C1112.8 635 1121.3 636.8 1129.5 638.8C1138.8 641 1148 644.3 1157 647.5C1161.9 649.3 1166.5 651.7 1171.2 653.8" fill="none" stroke="#000" stroke-width="1.9"/>
<path d="M1022 653.8L1032 662.5" fill="none" stroke="#000" stroke-width="1.9"/>
<path d="M1150.8 652.5L1171.2 660" fill="none" stroke="#000" stroke-width="1.9"/>
<path d="M1025.8 685C1031.2 680 1035.7 673.6 1042 670C1049.5 665.7 1058.4 662.5 1067 661.2C1075.1 660 1083.8 661.1 1092 662.5C1100.5 664 1109 666.6 1117 670C1125.7 673.7 1133.8 678.9 1142 683.8C1151.9 689.7 1161.5 696.2 1171.2 702.5" fill="none" stroke="#000" stroke-width="1.9"/>
<path d="M1025.8 691.2C1032.8 686.7 1039.4 680.8 1047 677.5C1054.8 674.1 1063.6 671.9 1072 671.2C1080.2 670.6 1088.9 671.9 1097 673.8C1105.6 675.7 1114.1 678.7 1122 682.5C1130.7 686.6 1139.5 691.4 1147 697.5C1155.9 704.8 1163.2 714.2 1171.2 722.5" fill="none" stroke="#000" stroke-width="1.9"/>
<path d="M1027 687.5C1031.2 685.4 1035.1 682.7 1039.5 681.2C1043.5 680 1047.8 680.1 1052 679.5" fill="none" stroke="#000" stroke-width="1.9"/>
<path d="M1114.5 708.8C1111.6 710.4 1107.5 711.2 1105.8 713.8C1103.3 717.4 1102 722.9 1102 727.5C1102 733.3 1103.4 739.6 1105.8 745C1108.4 751.3 1112.7 757.1 1117 762.5C1121.4 768 1126.4 773.3 1132 777.5C1136.4 780.8 1141.7 783.6 1147 785C1151.3 786.1 1156.5 786 1160.8 785C1163.6 784.3 1166.4 782.2 1168.2 780C1169.9 778 1170.2 775 1171.2 772.5" fill="none" stroke="#000" stroke-width="1.9"/>
<path d="M1114.5 708.8C1118.7 708.3 1123 706.8 1127 707.5C1132.2 708.4 1137.6 710.8 1142 713.8C1147.6 717.5 1152.6 722.4 1157 727.5C1160.9 732 1164.3 737.2 1167 742.5C1169 746.4 1169.8 750.8 1171.2 755" fill="none" stroke="#000" stroke-width="1.9"/>
<path d="M1113.2 711.2C1112.8 716.7 1111.1 722.3 1112 727.5C1113.2 734.4 1116.1 741.3 1119.5 747.5C1122.8 753.4 1127.2 759 1132 763.8C1136.4 768.1 1141.5 772.3 1147 775C1151.5 777.3 1157 778.5 1162 778.8C1164.5 778.9 1167 777.1 1169.5 776.2" fill="none" stroke="#000" stroke-width="1.9"/>
<path d="M1028.2 737.5C1032.8 740 1037.9 741.8 1042 745C1047.5 749.3 1052.8 754.4 1057 760C1061.5 766.1 1065.2 773 1068.2 780C1070.6 785.5 1072.4 791.6 1073.2 797.5C1073.7 800.8 1073.5 804.7 1072 807.5C1070.6 810.2 1067.4 812.8 1064.5 813.8C1060.8 814.9 1055.9 814.8 1052 813.8C1046.7 812.3 1041.6 809.3 1037 806.2C1031.6 802.7 1027 797.9 1022 793.8" fill="none" stroke="#000" stroke-width="1.9"/>
<path d="M1025.8 780C1029.5 784.2 1032.9 788.8 1037 792.5C1041.6 796.7 1046.6 800.8 1052 803.8C1055.8 805.8 1060.3 807 1064.5 807.5C1067 807.8 1069.5 806.7 1072 806.2" fill="none" stroke="#000" stroke-width="1.9"/>
<path d="M1013.2 810C1016.2 818.3 1018.4 827 1022 835C1026.3 844.5 1031.7 853.5 1037 862.5C1039.6 866.9 1042.8 870.8 1045.8 875" fill="none" stroke="#000" stroke-width="1.9"/>
<path d="M1004.5 818.8C1007.8 826.7 1010.7 834.8 1014.5 842.5C1018.2 850.2 1022.7 857.6 1027 865C1029 868.4 1031.2 871.7 1033.2 875" fill="none" stroke="#000" stroke-width="1.9"/>
<path d="M984.5 842.5C990.3 844.6 996.4 846.2 1002 848.8C1007.2 851.2 1012.1 854.4 1017 857.5C1020 859.4 1022.8 861.7 1025.8 863.8" fill="none" stroke="#000" stroke-width="1.9"/>
<path d="M954.5 862.5C962.8 865.8 971.2 869 979.5 872.5C981.2 873.2 982.8 874.2 984.5 875" fill="none" stroke="#000" stroke-width="1.9"/>
<path d="M947 865L972 875" fill="none" stroke="#000" stroke-width="1.9"/>
<path d="M917 870C923.7 870.8 930.5 870.9 937 872.5C943.9 874.2 950.3 877.5 957 880" fill="none" stroke="#000" stroke-width="1.9"/>
<path d="M1077 810C1075.8 815 1073.4 819.9 1073.2 825C1073 830.8 1074 837 1075.8 842.5C1077.7 848.6 1080.7 854.8 1084.5 860C1088.6 865.6 1093.9 870.7 1099.5 875C1104.8 879.1 1110.8 882.9 1117 885C1121.6 886.6 1127.2 887 1132 886.2C1135.6 885.7 1138.7 882.9 1142 881.2" fill="none" stroke="#000" stroke-width="1.9"/>
<path d="M1077 810C1080.3 809.2 1083.6 807.5 1087 807.5C1092 807.5 1097.6 807.8 1102 810C1107.6 812.8 1112.6 817.7 1117 822.5C1122.6 828.6 1127.8 835.4 1132 842.5C1136.1 849.5 1139.7 857.2 1142 865C1143.4 869.7 1142.8 875 1143.2 880" fill="none" stroke="#000" stroke-width="1.9"/>
<path d="M1082 807.5C1088.7 803.8 1094.9 798.5 1102 796.2C1106.6 794.8 1112.4 794.9 1117 796.2C1122.4 797.8 1127.5 801.4 1132 805C1137.5 809.4 1142.8 814.4 1147 820C1151.5 826.1 1155.2 833 1158.2 840C1160.6 845.5 1162.7 851.6 1163.2 857.5C1163.6 860.8 1161.6 864.2 1160.8 867.5" fill="none" stroke="#000" stroke-width="1.9"/>
<path d="M1142 881.2L1160.8 868.8" fill="none" stroke="#000" stroke-width="1.9"/>
<path d="M1092 828.8C1091.2 832.5 1089.1 836.3 1089.5 840C1089.9 844.3 1092.1 848.8 1094.5 852.5C1097.1 856.3 1100.7 859.9 1104.5 862.5C1108.2 864.9 1112.7 866.7 1117 867.5C1119.4 868 1123 867.8 1124.5 866.2C1126.3 864.4 1127 860.5 1127 857.5C1127 853.4 1126.3 848.7 1124.5 845C1122.2 840.4 1118.5 835.8 1114.5 832.5C1111 829.6 1106.3 827 1102 826.2C1098.8 825.7 1095.3 827.9 1092 828.8" fill="none" stroke="#000" stroke-width="1.9"/>
<path d="M1100.8 831.2C1102 835 1102.5 839.2 1104.5 842.5C1107.1 846.7 1110.7 850.6 1114.5 853.8C1117.3 856.1 1121.2 857.1 1124.5 858.8" fill="none" stroke="#000" stroke-width="1.9"/>
<path d="M1098.2 876.2L1093.2 881.2" fill="none" stroke="#000" stroke-width="1.9"/>
</g>
<clipPath id="c6"><rect x="917" y="875" width="306" height="292"/></clipPath>
<g clip-path="url(#c6)">
<path d="M1032 875C1040.3 884.2 1049 893 1057 902.5C1067.3 914.7 1077.8 927 1087 940C1096.1 952.8 1104.3 966.3 1112 980C1118.4 991.3 1124.4 1003 1129.5 1015C1134.4 1026.4 1138.8 1038.1 1142 1050C1144.2 1058.1 1145.5 1066.7 1145.8 1075C1145.9 1079.2 1144.1 1083.3 1143.2 1087.5" fill="none" stroke="#000" stroke-width="1.9"/>
<path d="M1047 875C1055.3 883.3 1064.1 891.3 1072 900C1079.1 907.9 1085.8 916.3 1092 925C1098.3 933.8 1104 943.2 1109.5 952.5C1114.8 961.5 1120 970.6 1124.5 980C1129.2 989.8 1133.6 999.8 1137 1010C1140.3 1019.8 1142.6 1029.9 1144.5 1040C1145.9 1047.4 1146.2 1055 1147 1062.5" fill="none" stroke="#000" stroke-width="1.9"/>
<path d="M946.8 865C955.7 868.9 965 872 973.5 876.8C985 883.2 996.5 890.3 1006.8 898.5C1018.7 908.1 1029.8 919 1040.2 930.2C1051 941.8 1061.2 954.1 1070.2 967C1079.1 979.6 1086.8 993.2 1093.8 1007C1099.7 1018.8 1104.1 1031.4 1108.8 1043.8C1110.1 1047.4 1111.4 1051.2 1112 1055C1115.1 1074.3 1117.3 1093.8 1120 1113.2" fill="none" stroke="#000" stroke-width="1.9"/>
<path d="M955 862.5C964.5 866.9 974.5 870.5 983.5 875.8C995.1 882.5 1006.4 890 1016.8 898.5C1028.6 908.2 1040 918.9 1050.2 930.2C1060.6 941.7 1070.1 954.2 1078.8 967C1087.4 979.8 1095.1 993.2 1102 1007C1107.9 1018.8 1112.5 1031.4 1117 1043.8C1118.3 1047.4 1119 1051.2 1119.5 1055C1122.3 1074.4 1124.5 1093.8 1127 1113.2" fill="none" stroke="#000" stroke-width="1.9"/>
<path d="M940 872.5C948.3 875.6 957.1 877.8 965 881.8C976.6 887.5 988.1 894 998.5 901.8C1010.5 910.7 1021.7 920.9 1032 931.8C1042.9 943.2 1052.9 955.6 1062 968.5C1070.6 980.7 1078.7 993.6 1085.2 1007C1091 1018.7 1094.6 1031.4 1098.8 1043.8C1100 1047.4 1100.7 1051.2 1101.2 1055C1104.2 1074.4 1106.8 1093.8 1109.5 1113.2" fill="none" stroke="#000" stroke-width="1.9"/>
<path d="M934.5 950C931.6 941.7 927.1 933.6 925.8 925C924.6 917.7 925.7 909.8 927 902.5C927.8 898.1 929.6 893.7 932 890C933.9 887 937 884.4 940 882.5C943 880.6 946.5 879.1 950 878.5C953.2 878 956.8 878.3 960 879.2C967.4 881.6 975.2 884.2 981.8 888.5C993.6 896.2 1004.9 905.5 1015.2 915.2C1025.5 925 1035.1 935.7 1043.5 947C1051.2 957.4 1058.5 968.5 1063.8 980.2C1068 989.7 1070 1000.3 1072 1010.5C1073.5 1018.5 1073.8 1026.8 1074.2 1035C1074.5 1040 1074.1 1045 1074 1050" fill="none" stroke="#000" stroke-width="1.9"/>
<path d="M944.5 980C942 972.5 938.8 965.2 937 957.5C935.5 951 934.8 944.2 934.5 937.5C934.3 933.3 934.1 928.6 935.8 925C937.5 921.1 940.8 916.9 944.5 915C948.7 912.8 954.5 912.1 959.5 912.5C966.2 913 973.2 914.9 979.5 917.5C987.4 920.7 995.1 925 1002 930C1010.1 935.8 1017.6 942.7 1024.5 950C1032.6 958.6 1040 967.9 1047 977.5C1053.4 986.3 1059.7 995.3 1064.5 1005C1068.4 1012.8 1071.4 1021.5 1073.2 1030C1074.7 1036.5 1075.6 1043.6 1074.5 1050C1073.5 1056.1 1071 1063.2 1067 1067.5C1063.5 1071.1 1057.2 1073.4 1052 1073.8C1046.3 1074.2 1040.3 1071.2 1034.5 1070" fill="none" stroke="#000" stroke-width="1.9"/>
<path d="M963.2 1011.2C971.2 1020 978.7 1029.2 987 1037.5C994.9 1045.4 1003.2 1053.2 1012 1060C1019.8 1066.1 1028.2 1071.7 1037 1076.2C1044.9 1080.4 1053.4 1084.1 1062 1086.2C1068.4 1087.9 1075.5 1088.2 1082 1087.5C1087.1 1086.9 1092.8 1085.3 1097 1082.5C1100.3 1080.3 1102.9 1076.2 1104.5 1072.5C1105.8 1069.5 1105.3 1065.8 1105.8 1062.5" fill="none" stroke="#000" stroke-width="1.9"/>
<path d="M1042 1101.2C1048.7 1102.9 1055.2 1105.7 1062 1106.2C1070.2 1106.9 1078.8 1106.3 1087 1105C1092.2 1104.2 1097 1101.7 1102 1100" fill="none" stroke="#000" stroke-width="1.9"/>
<path d="M1027 1012.5C1024.5 1015.8 1022.8 1020.6 1019.5 1022.5C1016.2 1024.4 1011 1024.5 1007 1023.8C1001.8 1022.8 996.4 1020.5 992 1017.5C987.2 1014.2 982.5 1009.9 979.5 1005C976.3 999.9 974 993.4 973.2 987.5C972.7 983.4 973.6 978.1 975.8 975C977.4 972.7 981.4 971.6 984.5 971.2C989.3 970.7 994.9 970.8 999.5 972.5C1004.9 974.5 1010.3 978.3 1014.5 982.5C1019.5 987.5 1023.4 993.8 1027 1000C1029.2 1003.8 1030.3 1008.3 1032 1012.5" fill="none" stroke="#000" stroke-width="1.9"/>
<path d="M982 987.5C982.8 991.7 982.6 996.4 984.5 1000C986.8 1004.3 990.5 1008.6 994.5 1011.2C998 1013.6 1003.1 1015.3 1007 1015C1009.4 1014.8 1012.4 1012.3 1013.2 1010C1014.5 1006.4 1014.4 1001.3 1013.2 997.5C1011.9 993 1009.1 988.3 1005.8 985C1002.8 982.1 998.5 979.7 994.5 978.8C991.4 978 986.8 978.4 984.5 980C982.7 981.3 982.8 985 982 987.5" fill="none" stroke="#000" stroke-width="1.9"/>
<path d="M973.2 975C972.8 971.7 971.3 968.1 972 965C972.6 962.2 974.8 959.2 977 957.5C978.6 956.3 981.2 956.7 983.2 956.2" fill="none" stroke="#000" stroke-width="1.9"/>
<path d="M1020.8 1022.5L1033.2 1011.2" fill="none" stroke="#000" stroke-width="1.9"/>
<path d="M983.2 950C982.8 953.3 981.2 956.9 982 960C982.9 963.6 985.4 967.6 988.2 970C991.2 972.6 995.8 974.7 999.5 975C1001.7 975.2 1004.6 973.1 1005.8 971.2C1007.1 969 1007.7 965.2 1007 962.5C1006 958.9 1003.6 954.9 1000.8 952.5C998.2 950.3 994.2 949.2 990.8 948.8C988.3 948.4 985.8 949.6 983.2 950" fill="none" stroke="#000" stroke-width="1.9"/>
<path d="M983.2 950C987 946.7 990.3 942.4 994.5 940C997 938.6 1000.6 938 1003.2 938.8C1006.8 939.7 1010.7 942.2 1013.2 945C1015.7 947.6 1017.6 951.5 1018.2 955C1018.8 958.2 1018.8 962.5 1017 965C1014.6 968.3 1009.5 970 1005.8 972.5" fill="none" stroke="#000" stroke-width="1.9"/>
<path d="M944.5 983.8C944.1 987.5 942.4 991.5 943.2 995C944.1 998.6 946.6 1002.6 949.5 1005C952.5 1007.6 957 1009.4 960.8 1010C962.4 1010.3 965 1009 965.8 1007.5C967.1 1004.8 967.8 1000.6 967 997.5C966.1 993.9 963.4 990.2 960.8 987.5C958.4 985.2 955.1 983.2 952 982.5C949.7 982 947 983.3 944.5 983.8" fill="none" stroke="#000" stroke-width="1.9"/>
<path d="M944.5 983.8C948.7 980.4 952.4 975.9 957 973.8C959.5 972.6 963.2 972.8 965.8 973.8C968.6 974.8 970.8 977.9 973.2 980" fill="none" stroke="#000" stroke-width="1.9"/>
<path d="M965.8 1007.5L975.8 1000" fill="none" stroke="#000" stroke-width="1.9"/>
<path d="M1017 1036.2C1017 1040 1016 1044 1017 1047.5C1018.1 1051.1 1020.3 1055.2 1023.2 1057.5C1026.2 1059.8 1030.8 1061 1034.5 1061.2C1036.2 1061.4 1038.7 1060.2 1039.5 1058.8C1040.8 1056.5 1041.5 1052.7 1040.8 1050C1039.8 1046.4 1037.3 1042.6 1034.5 1040C1031.9 1037.6 1028 1035.7 1024.5 1035C1022.1 1034.5 1019.5 1035.8 1017 1036.2" fill="none" stroke="#000" stroke-width="1.9"/>
<path d="M1017 1036.2C1020.8 1032.9 1024 1028.4 1028.2 1026.2C1030.7 1025 1034.4 1025.2 1037 1026.2C1040.7 1027.7 1044.5 1030.6 1047 1033.8C1049.5 1036.9 1051.2 1041.1 1052 1045C1052.5 1047.4 1052.2 1050.7 1050.8 1052.5C1048.1 1055.7 1043.2 1057.5 1039.5 1060" fill="none" stroke="#000" stroke-width="1.9"/>
<path d="M1094.5 878.8C1093.2 882.5 1091.1 886.1 1090.8 890C1090.3 894.9 1090.7 900.2 1092 905C1093.6 911.1 1096 917.4 1099.5 922.5C1103.5 928.2 1108.8 933.5 1114.5 937.5C1119.6 941 1125.9 943.6 1132 945C1136.8 946.1 1142.6 946.5 1147 945C1150.1 944 1153 940.5 1154.5 937.5C1156.3 933.9 1157 929.2 1157 925C1157 920.8 1155.9 916.5 1154.5 912.5C1152.6 907.3 1150.2 902 1147 897.5C1144.3 893.7 1140.3 890.8 1137 887.5" fill="none" stroke="#000" stroke-width="1.9"/>
<path d="M1099.5 875C1105.3 878.3 1110.8 882.9 1117 885C1121.6 886.6 1127.2 887 1132 886.2C1135.6 885.7 1138.8 883.2 1142 881.2C1148.4 877.4 1154.5 872.9 1160.8 868.8" fill="none" stroke="#000" stroke-width="1.9"/>
<path d="M1143.2 875L1143.2 880" fill="none" stroke="#000" stroke-width="1.9"/>
<path d="M1102 882.5C1101.6 887.5 1100 892.7 1100.8 897.5C1101.7 903.5 1103.7 909.9 1107 915C1110.8 920.8 1116.4 925.8 1122 930C1126.4 933.3 1131.7 936.1 1137 937.5C1140.9 938.6 1145.3 937.5 1149.5 937.5" fill="none" stroke="#000" stroke-width="1.9"/>
<path d="M1124.5 890C1128.7 895 1133.2 899.7 1137 905C1141.6 911.4 1145.8 918.1 1149.5 925C1151.2 928.1 1152 931.7 1153.2 935" fill="none" stroke="#000" stroke-width="1.9"/>
<path d="M1134.5 888.8C1137.8 892.5 1141.6 895.9 1144.5 900C1147.8 904.7 1150.3 910 1153.2 915" fill="none" stroke="#000" stroke-width="1.9"/>
<path d="M1109.5 952.5C1117 955.8 1124.3 959.7 1132 962.5C1139.3 965.1 1146.9 967.3 1154.5 968.8C1160 969.8 1165.7 969.6 1171.2 970" fill="none" stroke="#000" stroke-width="1.9"/>
<path d="M1057 902.5C1068.7 914.2 1079.7 926.6 1092 937.5C1101.3 945.8 1111.6 953.1 1122 960C1129.9 965.2 1138.3 970 1147 973.8C1154.7 977.1 1163.2 978.8 1171.2 981.2" fill="none" stroke="#000" stroke-width="1.9"/>
<path d="M1125.8 1101.2L1171.2 1053.8" fill="none" stroke="#000" stroke-width="1.9"/>
<path d="M1132 1113.2L1171.2 1075" fill="none" stroke="#000" stroke-width="1.9"/>
</g>
<path d="M997.5 962.6L994 965L989.8 963.7L989 959.9L992.5 957.5L996.7 958.8Z" fill="none" stroke="#000" stroke-width="1.9"/>
<path d="M958.7 996.8L955.3 999.3L951.1 998L950.3 994.2L953.7 991.7L957.9 993Z" fill="none" stroke="#000" stroke-width="1.9"/>
<path d="M1031.2 1048.8L1027.8 1051.3L1023.6 1050L1022.8 1046.2L1026.2 1043.7L1030.4 1045Z" fill="none" stroke="#000" stroke-width="1.9"/>
<clipPath id="c7"><polygon points="726,834.7 917,834.7 917,1167 600,1167 600,921 640,893.7"/></clipPath>
<g clip-path="url(#c7)">
<path d="M676.2 881.2L725 847.5" fill="none" stroke="#000" stroke-width="1.9"/>
<path d="M676.2 881.2C676.7 885 676.1 889.1 677.5 892.5C679 896.2 681.9 899.9 685 902.5C687.3 904.5 690.8 905 693.8 906.2" fill="none" stroke="#000" stroke-width="1.9"/>
<path d="M676.2 881.2C678.8 882.1 681.8 882.1 683.8 883.8C686.8 886.3 689.6 890 691.2 893.8C692.9 897.5 692.9 902.1 693.8 906.2" fill="none" stroke="#000" stroke-width="1.9"/>
<path d="M693.8 906.2L722.5 887.5" fill="none" stroke="#000" stroke-width="1.9"/>
<path d="M741.2 890L757.5 902.5" fill="none" stroke="#000" stroke-width="1.9"/>
<path d="M757.5 870C758.3 885 759 900 760 915C760.7 925 761.7 935 762.5 945" fill="none" stroke="#000" stroke-width="1.9"/>
<path d="M722.5 920L735 923.8L762.5 945" fill="none" stroke="#000" stroke-width="1.9"/>
<path d="M735 923.8C733.8 930.8 731.2 937.9 731.2 945C731.2 951.7 732.9 958.6 735 965C737.5 972.8 740.5 980.8 745 987.5C750.5 995.8 757.6 1003.4 765 1010C772.6 1016.7 781.7 1021.7 790 1027.5C798.3 1033.3 806.8 1039 815 1045C826 1053.1 836.8 1061.5 847.5 1070C857.7 1078.1 867 1087.4 877.5 1095C887 1101.8 897.5 1107 907.5 1113" fill="none" stroke="#000" stroke-width="1.9"/>
<path d="M745 987.5C745.8 996.7 746.4 1005.9 747.5 1015C748.5 1023.4 749 1032 751.2 1040C753.2 1047 756.1 1053.9 760 1060C764.1 1066.4 769.4 1072.3 775 1077.5C780.2 1082.3 786.3 1086.6 792.5 1090C796.3 1092 800.9 1093.8 805 1093.8C807.6 1093.8 810 1091.2 812.5 1090" fill="none" stroke="#000" stroke-width="1.9"/>
<path d="M762.5 945C763.3 951.7 763.2 958.6 765 965C767.4 973.6 770.8 982.1 775 990C779.2 997.9 784.3 1005.6 790 1012.5C796 1019.7 803.3 1025.8 810 1032.5" fill="none" stroke="#000" stroke-width="1.9"/>
<path d="M757.5 1030C757.1 1035 755.5 1040.2 756.2 1045C757.2 1051 759.5 1057.2 762.5 1062.5C765.7 1068.1 770.1 1073.5 775 1077.5C779.2 1081 784.8 1083.8 790 1085C793.9 1085.9 799.3 1085.6 802.5 1083.8C805.1 1082.3 807 1078.2 807.5 1075C808.2 1070.3 807.7 1064.7 806.2 1060C804.4 1053.9 801.5 1047.5 797.5 1042.5C793.5 1037.5 788 1033.2 782.5 1030C778 1027.4 772.4 1025 767.5 1025C764 1025 760.8 1028.3 757.5 1030" fill="none" stroke="#000" stroke-width="1.9"/>
<path d="M775 1033.8C777.5 1038.3 779.4 1043.4 782.5 1047.5C786 1052.1 790.5 1056.3 795 1060C798 1062.5 801.7 1064.2 805 1066.2" fill="none" stroke="#000" stroke-width="1.9"/>
<path d="M812.5 1048.8L813.8 1090" fill="none" stroke="#000" stroke-width="1.9"/>
<path d="M812.5 1090L835 1076.2L836.2 1113" fill="none" stroke="#000" stroke-width="1.9"/>
<path d="M810 1042.5C816.7 1047.5 823.4 1052.4 830 1057.5C838.4 1064.1 846.7 1070.8 855 1077.5C859.2 1080.8 863.3 1084.2 867.5 1087.5" fill="none" stroke="#000" stroke-width="1.9"/>
<path d="M867.5 1092.5L868.8 1113" fill="none" stroke="#000" stroke-width="1.9"/>
<path d="M860 1071.2C862.5 1075.8 864.4 1080.8 867.5 1085C870.3 1088.8 874.2 1091.7 877.5 1095" fill="none" stroke="#000" stroke-width="1.9"/>
<path d="M862.5 1042.5C859.2 1043.8 855.9 1046.2 852.5 1046.2C846.8 1046.2 840.4 1044.8 835 1042.5C827.9 1039.4 821.1 1034.9 815 1030C808.6 1024.9 802.4 1019 797.5 1012.5C792.4 1005.7 788.4 997.8 785 990C782.2 983.6 779.7 976.8 778.8 970C778.1 965.1 778.2 959.3 780 955C781.5 951.4 785.2 947.8 788.8 946.2C792.7 944.5 798.1 944.1 802.5 945C808.5 946.2 814.7 949.1 820 952.5C826.4 956.6 832.3 961.9 837.5 967.5C843.1 973.6 848.3 980.4 852.5 987.5C856.6 994.5 859.8 1002.3 862.5 1010C864.8 1016.5 866.7 1023.3 867.5 1030C867.9 1033.3 866.7 1036.7 866.2 1040" fill="none" stroke="#000" stroke-width="1.9"/>
<path d="M787.5 945L830 916.2" fill="none" stroke="#000" stroke-width="1.9"/>
<path d="M830 916.2C833.3 915.8 836.8 914.5 840 915C844.3 915.7 848.8 917.7 852.5 920C855.4 921.8 857.5 925 860 927.5" fill="none" stroke="#000" stroke-width="1.9"/>
<path d="M862.5 1042.5L891.2 1021.2" fill="none" stroke="#000" stroke-width="1.9"/>
<path d="M866.2 1067.5L907.5 1046.2" fill="none" stroke="#000" stroke-width="1.9"/>
<path d="M891.2 1021.2C892.1 1025.8 893.9 1030.4 893.8 1035C893.5 1040.8 892.4 1047.2 890 1052.5C887.8 1057.2 884.2 1062.1 880 1065C876.3 1067.6 870.8 1068.8 866.2 1068.8C861.7 1068.8 857.1 1066.2 852.5 1065" fill="none" stroke="#000" stroke-width="1.9"/>
<path d="M802.5 975C801.7 978.3 799.8 981.7 800 985C800.2 990 801.5 995.5 803.8 1000C806.5 1005.5 810.4 1011 815 1015C819.1 1018.5 824.8 1021.2 830 1022.5C833.1 1023.3 837.5 1022.9 840 1021.2C842.5 1019.6 844.4 1015.7 845 1012.5C845.7 1008.6 845.1 1003.8 843.8 1000C841.8 994.7 838.6 989.4 835 985C831.5 980.7 827.2 976.6 822.5 973.8C818.9 971.6 813.9 969.8 810 970C807.3 970.2 805 973.3 802.5 975" fill="none" stroke="#000" stroke-width="1.9"/>
<path d="M815 980C814.2 983.3 811.9 986.8 812.5 990C813.5 995.2 816.6 1000.7 820 1005C823.3 1009.1 827.9 1012.5 832.5 1015C835.4 1016.6 839.2 1016.7 842.5 1017.5" fill="none" stroke="#000" stroke-width="1.9"/>
<path d="M818.8 985C821.2 990 823.1 995.5 826.2 1000C828.9 1003.8 832.9 1006.7 836.2 1010" fill="none" stroke="#000" stroke-width="1.9"/>
<path d="M796.2 893.8L796.2 937.5" fill="none" stroke="#000" stroke-width="1.9"/>
<path d="M796.2 893.8L820 876.2" fill="none" stroke="#000" stroke-width="1.9"/>
<path d="M812.5 925C813.3 921.7 813 917.4 815 915C817.2 912.4 821.4 910.5 825 910C829.8 909.3 835.2 910 840 911.2C845.2 912.5 850 915.4 855 917.5" fill="none" stroke="#000" stroke-width="1.9"/>
<path d="M818.8 906.2C819.2 902.1 818.4 897.3 820 893.8C821.3 891 824.6 888.2 827.5 887.5C831.3 886.6 836.1 887.6 840 888.8C844.4 890.1 848.3 892.9 852.5 895" fill="none" stroke="#000" stroke-width="1.9"/>
<path d="M848.8 872.5L857.5 887.5" fill="none" stroke="#000" stroke-width="1.9"/>
<path d="M857.5 872.5L862.5 881.2" fill="none" stroke="#000" stroke-width="1.9"/>
<path d="M860 887.5L875 871.2" fill="none" stroke="#000" stroke-width="1.9"/>
</g>
<clipPath id="c8"><polygon points="400,590 726,590 726,834.7 640,893.7 400,893.7"/></clipPath>
<g clip-path="url(#c8)">
<path d="M535 786.2C530.8 786.7 526.5 788.3 522.5 787.5C516.5 786.2 510.2 783.5 505 780C497.7 775.1 490.9 769 485 762.5C478.8 755.7 473.2 748 468.8 740C464.4 732.2 461.1 723.6 458.8 715C457 708.6 455.8 701.5 456.2 695C456.6 689.9 458.2 683.9 461.2 680C464 676.4 469.2 673.9 473.8 672.5C478.8 671 484.9 670.1 490 671.2C496.1 672.6 502.6 675.9 507.5 680C514.2 685.5 519.8 692.8 525 700C530.7 707.8 536 716.2 540 725C543.5 732.9 545.9 741.5 547.5 750C548.8 756.5 549.3 763.5 548.8 770C548.5 773.5 547.2 777.4 545 780C542.6 782.8 538.3 784.2 535 786.2" fill="none" stroke="#000" stroke-width="1.9"/>
<path d="M537.5 772.5C535 774.6 533 778.1 530 778.8C525.5 779.8 519.5 779.3 515 777.5C508.3 774.8 501.7 770.1 496.2 765C490 759.2 484.6 752.2 480 745C475.5 738 471.5 730.3 468.8 722.5C466.5 716.2 465.2 709.2 465 702.5C464.8 697.9 465.2 692.4 467.5 688.8C469.4 685.7 473.8 683.2 477.5 682.5C482.2 681.6 488 682 492.5 683.8C498.8 686.2 505.1 690.3 510 695C515.9 700.7 520.8 707.9 525 715C529.1 722 532.4 729.8 535 737.5C537.4 744.8 539.2 752.4 540 760C540.4 764.1 539.2 768.3 538.8 772.5" fill="none" stroke="#000" stroke-width="1.9"/>
<path d="M495 680C500.8 684.2 507.5 687.5 512.5 692.5C518.3 698.3 523.5 705.3 527.5 712.5C532.3 721.1 535.9 730.6 538.8 740C540.9 747.2 541.2 755 542.5 762.5" fill="none" stroke="#000" stroke-width="1.9"/>
<path d="M476.2 671.2L511.2 651.2" fill="none" stroke="#000" stroke-width="1.9"/>
<path d="M548.8 763.8L585 743.8" fill="none" stroke="#000" stroke-width="1.9"/>
<path d="M511.2 651.2C514.2 649.6 516.8 646.8 520 646.2C523.9 645.6 528.8 645.8 532.5 647.5C538.8 650.4 544.8 655.2 550 660C556.4 666 562.3 672.8 567.5 680C573.2 687.8 578.4 696.3 582.5 705C586.3 712.9 589.7 721.5 591.2 730C592.2 734.8 591.4 740.5 590 745C589.3 747.1 586.7 748.3 585 750" fill="none" stroke="#000" stroke-width="1.9"/>
<path d="M522.5 645C525 643.3 527.2 640.5 530 640C533.9 639.3 538.8 639.6 542.5 641.2C548.8 644.1 554.9 648.8 560 653.8C567.4 660.9 574.2 669 580 677.5C585.9 686.1 590.9 695.5 595 705C598.4 713 601.1 721.6 602.5 730C603.2 734.1 601.7 738.3 601.2 742.5" fill="none" stroke="#000" stroke-width="1.9"/>
<path d="M515 653.8C519.2 652.9 523.7 650.1 527.5 651.2C533.7 653.1 539.9 657.9 545 662.5C551.5 668.3 557.3 675.3 562.5 682.5C568.2 690.3 573.4 698.8 577.5 707.5C581.3 715.4 584.7 724 586.2 732.5C587.2 737.3 585.4 742.5 585 747.5" fill="none" stroke="#000" stroke-width="1.9"/>
<path d="M585 750L605 740" fill="none" stroke="#000" stroke-width="1.9"/>
<path d="M557.5 642.5L567.5 636.2" fill="none" stroke="#000" stroke-width="1.9"/>
<path d="M575 658.8L586.2 651.2" fill="none" stroke="#000" stroke-width="1.9"/>
<path d="M590 680L601.2 672.5" fill="none" stroke="#000" stroke-width="1.9"/>
<path d="M600 700L610 693.8" fill="none" stroke="#000" stroke-width="1.9"/>
<path d="M605 642.5L611.2 640" fill="none" stroke="#000" stroke-width="1.9"/>
<path d="M577.5 638.8C583.3 645 589.9 650.7 595 657.5C600.8 665.3 605.5 673.9 610 682.5C614.7 691.4 619 700.6 622.5 710C625.2 717.3 627.2 724.9 628.8 732.5C629.3 734.9 628.8 737.5 628.8 740" fill="none" stroke="#000" stroke-width="1.9"/>
<path d="M595 640C600 645.8 605.6 651.2 610 657.5C615.6 665.4 620.5 673.9 625 682.5C628.8 689.7 631.9 697.4 635 705C637.3 710.7 639.2 716.7 641.2 722.5" fill="none" stroke="#000" stroke-width="1.9"/>
<path d="M617.5 662.5C621.7 662.1 625.9 662.2 630 661.2C633.4 660.5 636.7 658.8 640 657.5" fill="none" stroke="#000" stroke-width="1.9"/>
<path d="M627.5 686.2C630.8 686.7 634.2 687.7 637.5 687.5C640.5 687.3 643.3 685.8 646.2 685" fill="none" stroke="#000" stroke-width="1.9"/>
<path d="M606.2 722.5L617.5 712.5L627.5 740" fill="none" stroke="#000" stroke-width="1.9"/>
<path d="M606.2 722.5L628.8 732.5" fill="none" stroke="#000" stroke-width="1.9"/>
<path d="M607.5 728.8L626.2 741.2" fill="none" stroke="#000" stroke-width="1.9"/>
<path d="M612.5 740L620 748.8" fill="none" stroke="#000" stroke-width="1.9"/>
<path d="M631.2 713.8L635 730" fill="none" stroke="#000" stroke-width="1.9"/>
<path d="M633.8 712.5L637.5 727.5" fill="none" stroke="#000" stroke-width="1.9"/>
<path d="M580 755L600 766.2L595 752.5" fill="none" stroke="#000" stroke-width="1.9"/>
<path d="M592.5 750C595.4 755.4 597.6 762 601.2 766.2C602.2 767.4 604.6 766.2 606.2 766.2" fill="none" stroke="#000" stroke-width="1.9"/>
<path d="M562.5 760C566.7 764.2 570.2 769.2 575 772.5C581.1 776.7 588.3 779.2 595 782.5" fill="none" stroke="#000" stroke-width="1.9"/>
<path d="M572.5 753.8L585 762.5" fill="none" stroke="#000" stroke-width="1.9"/>
<path d="M487.5 621.2C489.6 625.8 492.3 630.2 493.8 635C496.5 644.4 497.9 654.2 500 663.8" fill="none" stroke="#000" stroke-width="1.9"/>
<path d="M510 628.8L511.2 650" fill="none" stroke="#000" stroke-width="1.9"/>
<path d="M528.8 631.2L535 636.2L540 632.5" fill="none" stroke="#000" stroke-width="1.9"/>
<path d="M685 846.2C689.2 847.1 693.4 849.2 697.5 848.8C701.8 848.3 706.1 845.8 710 843.8C713.1 842.1 715.8 839.6 718.8 837.5" fill="none" stroke="#000" stroke-width="1.9"/>
</g>
<clipPath id="c9"><rect x="640" y="332" width="306" height="208"/></clipPath>
<g clip-path="url(#c9)">
<path d="M840 332C841.8 340.3 844.9 348.6 845.2 357C845.6 366.9 844.9 377.6 842 387C839.4 395.4 834.4 404 828.5 410.5C823.7 415.7 816.5 419.3 810 422C806.5 423.4 802.3 422.7 798.5 423" fill="none" stroke="#000" stroke-width="1.9"/>
<path d="M873 332C873.8 340.3 875.4 348.7 875.2 357C875.1 367 874.7 377.5 872 387C869.7 394.8 865.4 402.6 860.2 408.8C855.9 413.8 849.6 417.9 843.5 420.5C837.4 423.1 830.2 424 823.5 424.5C818 424.9 812.4 423.9 807 423C802.9 422.4 798.9 421.4 795 420C786.5 417 777.8 414.3 770 410C761.1 405.1 752.8 399 745 392.5C736.9 385.7 729.5 377.9 722.5 370C716.2 362.9 710.8 355 705 347.5" fill="none" stroke="#000" stroke-width="1.9"/>
<path d="M807.5 325C807.5 331.7 808.6 338.5 807.5 345C806.5 351 804.6 357.5 801.2 362.5C798.7 366.3 794.2 369.6 790 371.2C785.9 372.9 780.7 373.1 776.2 372.5C771.5 371.9 767.1 369.2 762.5 367.5" fill="none" stroke="#000" stroke-width="1.9"/>
<path d="M802.5 325C802.5 330 803.6 335.3 802.5 340C801.5 344 799.3 348.8 796.2 351.2C793.5 353.4 788.7 354 785 353.8C781.6 353.5 778.3 351.2 775 350" fill="none" stroke="#000" stroke-width="1.9"/>
<path d="M640 337.5C645 338.8 649.9 340.5 655 341.2C660.8 342.1 666.7 342.1 672.5 342.5" fill="none" stroke="#000" stroke-width="1.9"/>
<path d="M655 312.5C659.2 319.2 663.9 325.6 667.5 332.5C669.7 336.8 670.8 341.7 672.5 346.2" fill="none" stroke="#000" stroke-width="1.9"/>
<path d="M681.2 362.5C685.8 370 690.3 377.6 695 385C699.9 392.6 703.9 401.1 710 407.5C714.3 412 720.8 414.2 726.2 417.5" fill="none" stroke="#000" stroke-width="1.9"/>
<path d="M897.5 435C895.8 437.5 893.2 439.7 892.5 442.5C891.5 446.4 891.4 451.1 892.5 455C893.9 460.3 896.8 465.5 900 470C903.4 474.7 907.8 479 912.5 482.5C916.2 485.3 920.6 487.8 925 488.8C928.1 489.4 932.5 489.1 935 487.5C937.1 486.2 938.6 482.7 938.8 480C939 475.2 938 469.7 936.2 465C934.3 459.7 931.1 454.4 927.5 450C924 445.7 919.6 441.8 915 438.8C911.3 436.3 906.7 434.7 902.5 433.8C900.9 433.4 899.2 434.6 897.5 435" fill="none" stroke="#000" stroke-width="1.9"/>
</g>
<path d="M753.8 265C757.5 265.4 761.8 264.6 765 266.2C769.7 268.7 774 273.2 777.5 277.5C782.4 283.6 786.7 290.4 790 297.5C792.9 303.8 794.8 310.7 796.2 317.5C797.3 322.4 797.8 327.6 797.5 332.5C797.4 335.1 796.5 338 795 340C794 341.4 791.7 341.7 790 342.5" fill="none" stroke="#000" stroke-width="1.9"/>
<path d="M770 262.5C775 267.5 780.9 271.9 785 277.5C790 284.4 794 292.2 797.5 300C800.7 307.2 802.5 315 805 322.5" fill="none" stroke="#000" stroke-width="3.1"/>
<path d="M753.8 361.2L797.5 336.2" fill="none" stroke="#000" stroke-width="1.9"/>
<path d="M701.2 305C702.5 302.1 702.8 298.2 705 296.2C707.4 294 711.6 292.7 715 292.5C719.1 292.3 723.8 293.2 727.5 295C732.1 297.3 736.6 301 740 305C743.7 309.3 746.2 314.8 748.8 320C751.2 324.8 752.9 330 755 335" fill="none" stroke="#000" stroke-width="1.9"/>
<path d="M755 345C754.6 349.2 755.2 353.8 753.8 357.5C752.7 360.1 750 363 747.5 363.8C744.6 364.6 740.6 363.7 737.5 362.5C733.1 360.8 728.8 358 725 355C721.3 352.1 718.3 348.3 715 345" fill="none" stroke="#000" stroke-width="1.9"/>
<path d="M696.2 325C696.7 320.8 696.3 316.4 697.5 312.5C698.4 309.7 700.8 307.5 702.5 305" fill="none" stroke="#000" stroke-width="1.9"/>
<path d="M717.5 340C720.4 343.3 722.7 347.7 726.2 350C729.8 352.3 735 354 738.8 353.8C740.8 353.6 742.9 350.7 743.8 348.8C744.5 347 743.8 344.6 743.8 342.5" fill="none" stroke="#000" stroke-width="1.9"/>
<path d="M698.8 315L701.2 325" fill="none" stroke="#000" stroke-width="1.9"/>
<path d="M705 316.2L706.2 325" fill="none" stroke="#000" stroke-width="1.9"/>
<path d="M706.2 308.8C708.3 306.7 710 303.5 712.5 302.5C715.4 301.4 719.7 301.1 722.5 302.5C726.4 304.5 729.6 308.8 732.5 312.5C735.5 316.3 737.1 321.1 740 325C743 329 746.7 332.5 750 336.2" fill="none" stroke="#000" stroke-width="4.5"/>
<path d="M701.2 311.2L715 310L716.2 315L710 317.5" fill="none" stroke="#000" stroke-width="1.9"/>
<path d="M747.5 342.5L760 333.8L762.5 331.2L763.8 342.5L756.2 346.2L747.5 342.5" fill="none" stroke="#000" stroke-width="1.9"/>
<path d="M693.8 285C692.1 283.3 690.6 281.4 688.8 280C687.3 278.9 685.4 278.3 683.8 277.5" fill="none" stroke="#000" stroke-width="1.9"/>
<path d="M640 375L731.2 321.2" fill="none" stroke="#000" stroke-width="2.8"/>
<path d="M685 816.9C687.9 817.3 691.4 816.7 693.8 818.1C696.4 819.7 698.5 822.8 700 825.6C701.4 828.2 702.5 831.5 702.5 834.4C702.5 836.5 700.8 838.5 700 840.6" fill="none" stroke="#000" stroke-width="1.9"/>
<path d="M690 812.5C693.3 814 697.3 814.7 700 816.9C702.7 819 704.9 822.4 706.2 825.6C707.4 828.3 707.1 831.5 707.5 834.4" fill="none" stroke="#000" stroke-width="1.7"/>
<path d="M668.8 833.8L670.6 830.6L682.5 820.6L690.6 821.2L695.6 826.9L696.9 835.6L681.9 848.1L674.4 845Z" fill="#fff" stroke="#000" stroke-width="2.4"/>
<path d="M678.1 831.9L685.6 824.4L691.9 826.2L693.8 833.8L683.1 840.6Z" fill="none" stroke="#000" stroke-width="2.4"/>
<path d="M670.6 830.6L678.1 831.9" fill="none" stroke="#000" stroke-width="2.4"/>
<path d="M683.1 840.6L681.9 848.1" fill="none" stroke="#000" stroke-width="2.4"/>
<path d="M729.8 860C732.7 860.4 736.1 859.9 738.5 861.2C741.1 862.8 743.2 865.9 744.8 868.8C746.2 871.4 747.2 874.6 747.2 877.5C747.2 879.6 745.6 881.7 744.8 883.8" fill="none" stroke="#000" stroke-width="1.9"/>
<path d="M734.8 855.6C738.1 857.1 742 857.8 744.8 860C747.4 862.2 749.6 865.5 751 868.8C752.1 871.4 751.8 874.6 752.2 877.5" fill="none" stroke="#000" stroke-width="1.7"/>
<path d="M713.5 876.9L715.4 873.8L727.2 863.8L735.4 864.4L740.4 870L741.6 878.8L726.6 891.2L719.1 888.1Z" fill="#fff" stroke="#000" stroke-width="2.4"/>
<path d="M722.9 875L730.4 867.5L736.6 869.4L738.5 876.9L727.9 883.8Z" fill="none" stroke="#000" stroke-width="2.4"/>
<path d="M715.4 873.8L722.9 875" fill="none" stroke="#000" stroke-width="2.4"/>
<path d="M727.9 883.8L726.6 891.2" fill="none" stroke="#000" stroke-width="2.4"/>
<path d="M703.1 906.9C706 907.3 709.5 906.7 711.9 908.1C714.5 909.7 716.6 912.8 718.1 915.6C719.5 918.2 720.6 921.5 720.6 924.4C720.6 926.5 719 928.5 718.1 930.6" fill="none" stroke="#000" stroke-width="1.9"/>
<path d="M708.1 902.5C711.5 904 715.4 904.7 718.1 906.9C720.8 909 723 912.4 724.4 915.6C725.5 918.3 725.2 921.5 725.6 924.4" fill="none" stroke="#000" stroke-width="1.7"/>
<path d="M686.9 923.8L688.8 920.6L700.6 910.6L708.8 911.2L713.8 916.9L715 925.6L700 938.1L692.5 935Z" fill="#fff" stroke="#000" stroke-width="2.4"/>
<path d="M696.2 921.9L703.8 914.4L710 916.2L711.9 923.8L701.2 930.6Z" fill="none" stroke="#000" stroke-width="2.4"/>
<path d="M688.8 920.6L696.2 921.9" fill="none" stroke="#000" stroke-width="2.4"/>
<path d="M701.2 930.6L700 938.1" fill="none" stroke="#000" stroke-width="2.4"/>
<path d="M678.1 297.9L679.8 295.1L690.5 286.1L697.8 286.7L702.3 291.8L703.4 299.6L689.9 310.9L683.2 308.1Z" fill="#fff" stroke="#000" stroke-width="2.4"/>
<path d="M686.6 296.2L693.3 289.5L698.9 291.2L700.6 297.9L691.1 304.1Z" fill="none" stroke="#000" stroke-width="2.4"/>
<path d="M679.8 295.1L686.6 296.2" fill="none" stroke="#000" stroke-width="2.4"/>
<path d="M691.1 304.1L689.9 310.9" fill="none" stroke="#000" stroke-width="2.4"/>
<path d="M1130.7 592.5L1132.1 590.2L1141 582.7L1147.1 583.2L1150.8 587.4L1151.8 593.9L1140.5 603.3L1134.9 601Z" fill="#fff" stroke="#000" stroke-width="2.4"/>
<path d="M1137.7 591.1L1143.3 585.5L1148 586.9L1149.4 592.5L1141.5 597.7Z" fill="none" stroke="#000" stroke-width="2.4"/>
<path d="M1132.1 590.2L1137.7 591.1" fill="none" stroke="#000" stroke-width="2.4"/>
<path d="M1141.5 597.7L1140.5 603.3" fill="none" stroke="#000" stroke-width="2.4"/>
<path d="M859.3 887.4A153.2 75.2 61.3 0 0 973.4 1113.8" fill="none" stroke="#000" stroke-width="1.9"/>
<path d="M925.1 871.4A141.2 66.5 55.8 0 0 1004.4 1109.8" fill="none" stroke="#000" stroke-width="1.9"/>
<path d="M921.9 870.1A137.8 55.1 58.3 0 0 1042.2 1107.9" fill="none" stroke="#000" stroke-width="1.9"/>
<ellipse cx="500.3" cy="731.2" rx="23.5" ry="13.2" transform="rotate(58 500.3 731.2)" fill="none" stroke="#000" stroke-width="1.9"/>
</g>
<path d="M445 288.8L480 267.5C484.2 266.6 488.3 265.1 492.5 264.8C498.3 264.3 504.2 264.3 510 265C515.1 265.6 520.1 267.1 525 268.8C530.1 270.5 535.2 272.6 540 275C545.2 277.6 550.2 280.5 555 283.8C559.4 286.7 563.5 290.2 567.5 293.8C574.8 300.2 581.8 307 588.8 313.8C595.9 320.7 603.5 327.4 610 335C616.8 343 623 351.7 628.8 360.5C634.7 369.7 639.8 379.4 645 389C650.5 399.2 655.8 409.6 661 420C663.9 425.8 666.9 431.6 669.5 437.5C671.9 442.9 674.5 448.3 676 454C678.3 462.5 679.4 471.3 681 480C681.9 485 683.2 490 683.8 495C684.3 500 684.6 505 684.4 510C684.2 514.6 683.8 519.4 682.5 523.8C681.5 527.4 679.1 530.6 677.5 534C675.8 537.6 674.3 541.4 672.5 545C671.1 547.7 669.5 550.3 668 553C662 560.3 656.9 568.7 650 575C642.6 581.8 633.3 586.7 625 592.5C622 595.3 619 598.2 616 601C612.4 604.4 609 608.2 605 611C601.2 613.7 596.9 616 592.5 617.5C587.7 619.2 582.6 620.2 577.5 620.6C572.1 621 566.4 621 561 620C555.9 619.1 550.9 617 546 615C540.5 612.8 535.2 610.3 530 607.5C523.5 604 517.3 600 511 596C504.8 592 498.2 588.4 492.5 583.8C487.9 580 484.3 575.1 480 571C474.2 565.5 467.8 560.6 462 555C456.1 549.3 450.2 543.4 445 537C438.7 529.4 433 521.2 427.5 513C421.4 503.9 415.4 494.6 410 485C405.4 476.9 401.1 468.6 397.5 460C393.7 450.9 390.7 441.5 388 432C385.5 423.5 383.7 414.7 382 406C380.6 398.9 379.4 391.6 378.8 384.4C377.9 375.5 377.5 366.5 377.5 357.5C377.5 352.5 377.4 347.3 378.8 342.5C380.7 335.6 384.1 328.9 387.5 322.5C389.5 318.9 392.3 315.7 395 312.5C398.5 308.5 401.8 304.1 406 301C410.1 297.9 415.1 295.7 420 293.8C424 292.2 428.3 291.4 432.5 290.6C436.6 289.8 440.8 289.4 445 288.8Z" fill="#fff" stroke="#000" stroke-width="5.9"/>
<path d="M389 321C391.2 317.8 393.1 314.4 395.5 311.5C398.9 307.4 402.3 303.2 406.5 300C410.5 296.9 415.3 294.5 420 292.6C423.9 291 428.3 290.3 432.5 289.5C436.3 288.8 440.2 288.5 444 288" fill="none" stroke="#000" stroke-width="7.7"/>
<path d="M677.5 534C675.8 537.7 674.4 541.4 672.5 545C670.2 549.3 667.5 553.3 665 557.5C663.3 560.3 661.7 563.2 660 566" fill="none" stroke="#000" stroke-width="5.9"/>
<line x1="469.4" y1="291.2" x2="506.5" y2="270" stroke="#000" stroke-width="3.6"/>
<line x1="498" y1="298" x2="533.8" y2="278" stroke="#000" stroke-width="3.6"/>
<line x1="523" y1="315.5" x2="560" y2="293.8" stroke="#000" stroke-width="3.6"/>
<line x1="549.5" y1="337" x2="587" y2="315.5" stroke="#000" stroke-width="3.6"/>
<line x1="572" y1="359.5" x2="609" y2="338.8" stroke="#000" stroke-width="3.6"/>
<line x1="591.2" y1="385.5" x2="627.5" y2="363.8" stroke="#000" stroke-width="3.6"/>
<line x1="608.8" y1="415" x2="646.2" y2="392.5" stroke="#000" stroke-width="3.6"/>
<line x1="624.4" y1="444" x2="662" y2="424" stroke="#000" stroke-width="3.6"/>
<line x1="631.9" y1="472.5" x2="642.5" y2="468" stroke="#000" stroke-width="3.6"/>
<line x1="658.8" y1="456.5" x2="671" y2="450" stroke="#000" stroke-width="3.6"/>
<line x1="637.5" y1="497" x2="674" y2="477.5" stroke="#000" stroke-width="3.6"/>
<line x1="640.6" y1="519.4" x2="681.2" y2="495" stroke="#000" stroke-width="3.6"/>
<line x1="642.5" y1="543" x2="682.5" y2="518.8" stroke="#000" stroke-width="3.6"/>
<line x1="638.8" y1="565" x2="671" y2="546" stroke="#000" stroke-width="3.6"/>
<path d="M453.8 287.5C459.2 289.4 464.7 291 470 293.1C475.9 295.5 481.7 298.4 487.5 301" fill="none" stroke="#000" stroke-width="3.5"/>
<path d="M448.1 293.1C452.5 294.6 457 295.7 461.2 297.5C465.4 299.2 469 302.4 473.1 303.8C474.9 304.3 476.9 303.3 478.8 303.1" fill="none" stroke="#000" stroke-width="2.4"/>
<path d="M495.6 316.2C499.6 318.8 503.9 320.8 507.5 323.8C513.7 328.7 519.5 334.3 525 340C531.1 346.4 536.8 353.2 542.5 360C547.6 366.1 552.5 372.5 557.5 378.8C566.6 390 576.4 400.9 585 412.5C589.3 418.4 592.2 425.2 596.2 431.2C598.9 435.2 602.1 438.8 605 442.5" fill="none" stroke="#000" stroke-width="3.5"/>
<path d="M504.4 314.4C506.2 314.6 508.5 314 510 315C516.2 319.2 522 324.7 527.5 330C533.6 335.9 539.4 342.3 545 348.8C551 355.7 557 362.7 562.5 370C572.4 383.1 582.2 396.4 591.2 410C595.5 416.4 598.6 423.4 602.5 430C605.3 434.7 608.3 439.2 611.2 443.8" fill="none" stroke="#000" stroke-width="3.1"/>
<path d="M510 313.1C517.3 318.4 525 323.2 531.9 329C538.6 334.7 544.8 341.1 550.6 347.8C557.3 355.3 563.4 363.4 569.4 371.5C578.8 384.3 588.1 397.3 596.9 410.6C600.6 416.2 603.6 422.2 606.9 428.1C609.4 432.7 611.6 437.3 614 441.9" fill="none" stroke="#000" stroke-width="2.6"/>
<path d="M610 461.2C612.1 466.7 614.3 472 616.2 477.5C618.5 483.7 620.6 489.9 622.5 496.2C624.4 502.4 626.8 508.6 627.5 515C628.2 521.6 627 528.3 626.9 535C626.8 543.3 627.6 551.7 626.9 560C626.2 567.6 624.6 575.2 622.5 582.5C621 587.7 618.7 592.7 616.2 597.5C614.5 600.8 612.1 603.8 610 606.9" fill="none" stroke="#000" stroke-width="3.5"/>
<path d="M616.2 462.5C618.3 467.5 620.7 472.4 622.5 477.5C624.9 484.5 627.1 491.6 628.8 498.8C630.4 506.1 631.6 513.7 632.5 521.2C633 525.8 633.1 530.4 633.1 535C633.2 543.3 633.4 551.7 632.8 560C632.2 566.7 631.2 573.5 629.4 580C628.2 584.4 625.6 588.3 623.8 592.5" fill="none" stroke="#000" stroke-width="3.3"/>
<path d="M394.4 339.4C392.5 341.2 390 342.8 388.8 345C387.1 348 386.4 351.6 385.6 355C384.7 359.1 384.2 363.3 383.8 367.5C383.4 370.8 383.3 374.2 383.1 377.5" fill="none" stroke="#000" stroke-width="2.8"/>
<path d="M383.8 377.5C385.8 377.9 388.2 377.8 390 378.8C392.3 379.9 394.4 381.8 396.2 383.8C398 385.6 399.2 387.9 400.6 390" fill="none" stroke="#000" stroke-width="3.3"/>
<path d="M385 381.9C386.7 382.3 388.6 382.2 390 383.1C391.5 384.1 392.5 386 393.8 387.5" fill="none" stroke="#000" stroke-width="2.4"/>
<path d="M385 404.4L392.5 405.2" fill="none" stroke="#000" stroke-width="1.9"/>
<path d="M385.9 406.9C387.3 413.6 388.3 420.4 390.1 427C392.2 434.9 394.9 442.7 397.6 450.4C400.1 457.7 403.1 464.9 405.9 472.1" fill="none" stroke="#000" stroke-width="2.4"/>
<path d="M430 314.4L450.6 309.4" fill="none" stroke="#000" stroke-width="1.5"/>
<path d="M410.6 335.6C412.1 336.9 413.4 338.4 415 339.4C416.5 340.3 418.3 341.1 420 341.2C422 341.5 424.2 340.8 426.2 340.6" fill="none" stroke="#000" stroke-width="3.3"/>
<path d="M419.4 333.1L447.5 328.5L450 331.2L449.4 336.2L446.9 338.8L425 338.8L418.8 335.2Z" fill="#000" stroke="#000" stroke-width="1"/>
<path d="M438.8 335.2L443.8 335" fill="none" stroke="#fff" stroke-width="1.6"/>
<path d="M447.5 329C450.8 327.7 454.1 326 457.5 325C461.2 323.9 465 322.5 468.8 322.5C472.5 322.5 476.2 324.2 480 325" fill="none" stroke="#000" stroke-width="5"/>
<path d="M468.8 322.8C472.5 323.6 476.6 323.7 480 325.2C483.7 326.9 487.1 329.6 490 332.5C492.5 335 494.5 338.2 496.2 341.2C497.6 343.7 498.3 346.4 499.4 349" fill="none" stroke="#000" stroke-width="7.7"/>
<path d="M476.2 320C479.2 320.4 482.4 320.1 485 321.2C488.2 322.6 491.4 324.9 493.8 327.5C496 329.9 497.5 333.2 498.8 336.2C499.6 338.4 499.8 340.8 500.2 343.1" fill="none" stroke="#000" stroke-width="2.1"/>
<path d="M458.1 326.9C462.5 327.9 467.3 328.1 471.2 330C474.6 331.6 477.7 334.5 480 337.5C482.3 340.4 483.4 344.1 485 347.5C486.3 350.4 487.5 353.3 488.8 356.2C488.8 357.1 488.2 358.2 488.8 358.8C492 362.3 496.4 365.3 500 368.8C506 374.4 511.6 380.5 517.5 386.2C520.8 389.5 524.2 392.7 527.5 395.9" fill="none" stroke="#000" stroke-width="3.1"/>
<path d="M452.5 328.8C456.7 330 461.2 330.5 465 332.5C468.3 334.3 471.4 337 473.8 340C476.4 343.3 477.9 347.5 480 351.2C481.6 354.2 483.3 357.1 485 360C485 360 485 360 485 360C489.2 364.2 493.3 368.3 497.5 372.5C502.5 377.5 507.6 382.4 512.5 387.5C515.1 390.2 517.5 393.1 520 395.9" fill="none" stroke="#000" stroke-width="2.8"/>
<path d="M498.1 350L512.5 346.9C515 349.2 517.6 351.4 520 353.8C525.5 359.1 531.1 364.4 536.2 370C541.2 375.4 545.7 381.2 550.5 386.9C553 389.9 555.5 393 558 396.1C557.7 398.6 556.8 401.2 557.1 403.6C557.6 406.5 559.4 409.1 560.5 411.9C561.2 413.8 561.6 415.8 562.5 417.5C565.2 422.6 568 427.8 571.2 432.5C572.2 433.8 573.8 434.6 575 435.6" fill="none" stroke="#000" stroke-width="3.5"/>
<path d="M500 356.2C505 360.8 510.2 365.2 515 370C520.2 375.2 525 380.8 530 386.2C532.9 389.4 535.8 392.7 538.8 395.9" fill="none" stroke="#000" stroke-width="3.1"/>
<path d="M530 398.8C533.8 404.2 537.6 409.5 541.2 415C544.4 419.7 547.5 424.6 550.6 429.4" fill="none" stroke="#000" stroke-width="3.1"/>
<path d="M503.8 353.8C505.8 354.6 508.2 354.9 510 356.2C515.3 360.3 520.2 365.2 525 370C530.2 375.2 535 380.8 540 386.2C542.9 389.4 545.8 392.7 548.8 395.9" fill="none" stroke="#000" stroke-width="3.1"/>
<path d="M532.5 393.8C535.8 397.9 539.4 401.9 542.5 406.2C546.9 412.3 550.6 419 555 425C556.8 427.5 559.2 429.6 561.2 431.9" fill="none" stroke="#000" stroke-width="3.1"/>
<path d="M418.8 395C417.9 391.7 416.2 388.3 416.2 385C416.2 382.1 417.2 378.8 418.8 376.2C420.5 373.3 423.4 370.7 426.2 368.8C428.8 367 432 365.6 435 365C438.2 364.4 441.9 364.2 445 365C448.5 365.9 452 367.9 455 370C458.6 372.5 461.5 376.1 465 378.8C468.1 381.1 471.4 383.6 475 385C479.7 386.9 485 387.4 490 388.8C494.2 389.9 498.6 390.6 502.5 392.5C507.9 395.2 513.8 398.4 517.9 402.5C519.6 404.2 518.6 407.9 520 410C523.4 415 528.3 419.2 532.5 423.8" fill="none" stroke="#000" stroke-width="3.5"/>
<path d="M431.2 370C434.6 371.2 438.3 371.8 441.2 373.8C445.4 376.4 448.8 380.4 452.5 383.8C456.2 387.1 459.5 391.2 463.8 393.8C467.9 396.2 473 396.8 477.5 398.8C481.8 400.6 485.9 402.8 490 405C494.3 407.3 498.4 409.9 502.5 412.5C505.9 414.7 509.2 417.1 512.5 419.4" fill="none" stroke="#000" stroke-width="3.5"/>
<path d="M527.5 400C531.7 404.6 536.1 409 540 413.8C544 418.6 547.5 423.8 551.2 428.8" fill="none" stroke="#000" stroke-width="3.1"/>
<path d="M537.5 400C541.7 405 546.1 409.8 550 415C554 420.2 557.5 425.8 561.2 431.2" fill="none" stroke="#000" stroke-width="3.1"/>
<path d="M556.2 400C557.5 404.2 558.2 408.6 560 412.5C562 416.9 564.8 421 567.5 425C569.8 428.5 572.5 431.7 575 435" fill="none" stroke="#000" stroke-width="3.1"/>
<path d="M420.1 412.8C418.2 417.5 415.8 422.1 414.3 427C413.1 430.8 411.8 434.8 411.8 438.7C411.8 443.7 413 448.8 414.3 453.7C415.8 459.4 418 464.9 420.1 470.4C421.6 474.4 423.5 478.2 425.1 482.1" fill="none" stroke="#000" stroke-width="3.1"/>
<path d="M451.9 420C449.2 421.7 445.9 422.8 443.8 425C441.5 427.4 439.6 430.6 438.8 433.8C437.7 437.7 437.7 442.1 438.1 446.2C438.6 450.9 440 455.5 441.2 460C442.5 464.6 444 469.2 445.6 473.8C446.9 477.2 448.5 480.4 450 483.8" fill="none" stroke="#000" stroke-width="3.1"/>
<path d="M458.8 477.5C457.7 475.8 456.4 474.3 455.6 472.5C454.1 469.3 452.8 465.9 451.9 462.5C450.7 458.4 449.7 454.2 449.4 450C449.1 447.1 449.6 444.1 450 441.2C450.4 438.7 450.4 435.5 451.9 433.8C453.3 432 456.3 431.1 458.8 430.6C462 430 465.5 430 468.8 430.6C472.2 431.3 475.7 432.7 478.8 434.4C482.8 436.6 486.5 439.5 490 442.5C493.6 445.5 497.1 448.8 500 452.5C503.7 457.2 507.2 462.2 510 467.5C512.6 472.2 514.7 477.3 516.2 482.5C517.6 486.9 518.5 491.7 518.8 496.2C518.9 499.6 518.7 503.2 517.5 506.2C516.6 508.6 514.6 511.1 512.5 512.5C510.5 513.8 507.5 514.4 505 514.4C501.7 514.4 498.1 513.7 495 512.5C491 511 487.2 508.7 483.8 506.2C480.2 503.7 477.1 500.4 473.8 497.5C471.5 495.5 469.2 493.5 466.9 491.5" fill="none" stroke="#000" stroke-width="5"/>
<path d="M467.5 435C467.7 438.8 467.4 442.6 468.1 446.2C468.9 450.1 470.5 453.8 471.9 457.5C473 460.7 474.4 463.8 475.6 466.9" fill="none" stroke="#000" stroke-width="5.9"/>
<path d="M485 480C487.5 483.3 489.6 487.1 492.5 490C495.4 492.9 498.8 495.7 502.5 497.5C505.5 499 509.2 499.2 512.5 500" fill="none" stroke="#000" stroke-width="5.9"/>
<path d="M481.9 428.8C487.1 430 493 429.9 497.5 432.5C502.4 435.3 506.5 440.3 510 445C514 450.3 517 456.5 520 462.5C522.4 467.3 524.5 472.4 526.2 477.5C527.4 480.9 527.9 484.6 528.8 488.1" fill="none" stroke="#000" stroke-width="7.1"/>
<path d="M526.9 490C527.1 495.4 528.1 500.9 527.5 506.2C527 510.9 525.2 515.5 523.8 520C522.3 524.3 520.4 528.3 518.8 532.5" fill="none" stroke="#000" stroke-width="2.8"/>
<path d="M495 437.5C498.8 441.7 503 445.5 506.2 450C509.6 454.7 512.5 459.8 515 465C517.5 470.2 519.5 475.7 521.2 481.2C522.6 485.7 524 490.4 524.4 495C524.8 499.9 524.6 505.1 523.8 510C523.1 513.5 522 517.2 520 520C518.2 522.6 515.3 524.8 512.5 526.2C509.5 527.7 505.8 528.8 502.5 528.8C499.2 528.8 495.6 527.6 492.5 526.2C488.1 524.3 483.9 521.6 480 518.8C476 515.8 472.3 512.3 468.8 508.8C465.2 505.2 462.2 501.2 458.8 497.5C457.2 495.8 455.4 494.2 453.8 492.5" fill="none" stroke="#000" stroke-width="3.1"/>
<path d="M523.8 438.8C525.4 442.5 527.5 446.1 528.8 450C530.4 454.9 531.1 460 532.5 465C534 470.5 535.5 476 537.5 481.2C539.6 486.8 542.3 492.2 545 497.5C547.7 502.6 551.4 507.3 553.8 512.5C555.9 517.3 557.7 522.4 558.8 527.5C560 533.5 559.6 547.8 560.6 545.9C562.6 542 565.3 515.8 567.5 510C568.2 508 569.1 518.3 569.4 522.5C569.7 526.6 569.9 530.9 569.4 535C568.8 539.2 568 543.7 566.2 547.5C564.9 550.4 562.7 553.5 560 555C557.2 556.6 553.3 556.2 550 556.9" fill="none" stroke="#000" stroke-width="3.3"/>
<path d="M538.8 442.5C540 446.2 541.5 449.9 542.5 453.8C544 459.1 544.6 464.7 546.2 470C547.9 475.1 550 480.2 552.5 485C555 489.8 558.7 494 561.2 498.8C563.7 503.2 566.2 507.7 567.5 512.5C569.1 518.1 569.8 524.1 570 530C570.2 535.3 569.2 540.6 568.8 545.9" fill="none" stroke="#000" stroke-width="3.3"/>
<path d="M448.8 516.2C451.7 519.6 454.6 522.9 457.5 526.2C460.8 530 464.2 533.8 467.5 537.5C470 540.3 472.5 543.1 475 545.9" fill="none" stroke="#000" stroke-width="3.5"/>
<line x1="450.6" y1="489.4" x2="496.9" y2="463.8" stroke="#000" stroke-width="2.6"/>
<path d="M480 550C483.3 553.8 486.2 558.1 490 561.2C493.7 564.3 498.1 566.9 502.5 568.8C507.2 570.7 512.5 571.7 517.5 572.5C519.1 572.8 521.3 572.8 522.5 571.9C524 570.7 524.8 568.2 525.6 566.2C526.7 563.8 526.7 560.8 528.1 558.8C529 557.5 530.9 556.7 532.5 556.2C535.7 555.4 539.2 555.4 542.5 555C545 554.7 547.8 555.3 550 554.4C552 553.6 553.8 551.8 555 550C556.7 547.4 557.9 544.3 558.8 541.2C559.6 538 560.2 534.6 560 531.2C559.8 527.5 558.8 523.6 557.5 520C556.3 516.5 554.5 513.1 552.5 510C550.3 506.5 547.3 503.5 545 500C542.7 496.4 540.9 492.5 538.8 488.8C538 487.5 537.1 486.2 536.2 485" fill="none" stroke="#000" stroke-width="4.7"/>
<path d="M480 517.5C484.2 520 488.1 523.2 492.5 525C496.4 526.6 500.9 527.5 505 527.5C508.4 527.5 512.1 526.6 515 525C518 523.3 520.5 520.3 522.5 517.5C524.6 514.5 526.6 511 527.5 507.5C528.5 503.5 528.4 499.1 528.1 495C527.9 491.6 526.9 488.3 526.2 485" fill="none" stroke="#000" stroke-width="3.5"/>
<path d="M518.8 533.1C521.2 530.4 524.3 528.1 526.2 525C528.4 521.6 530.3 517.7 531.2 513.8C532.4 509.3 532.5 504.6 532.5 500C532.5 496.2 531.7 492.5 531.2 488.8" fill="none" stroke="#000" stroke-width="2.8"/>
<path d="M510 592.5C516.7 596.2 523.2 600.3 530 603.8C536.5 607 543.3 609.6 550 612.5" fill="none" stroke="#000" stroke-width="2.4"/>
<path d="M508.8 593.1C512.9 594.2 517 595.6 521.2 596.2C526.6 597.1 532.1 597.1 537.5 597.5" fill="none" stroke="#000" stroke-width="2.4"/>
<path d="M559.4 447.5C562.1 450.8 564.4 454.5 567.5 457.5C570.5 460.4 574.9 461.9 577.5 465C580.4 468.5 581.8 473.3 583.8 477.5C585.6 481.6 587.6 485.7 588.8 490C589.6 493.2 589.6 496.7 590 500C587.9 502.9 585 505.5 583.8 508.8C582.5 512.2 582.3 516.3 582.5 520C582.7 525.3 584.8 531.4 585 535.9C585 536.4 583.1 534.4 583.1 535C583.1 540.8 584.9 548.3 585 555C585.1 558.3 584.7 561.8 583.8 565C582.6 568.9 580.6 572.6 578.8 576.2C577.2 579.3 575.2 582 573.8 585C572.7 587.4 571.4 589.9 571.2 592.5C571 596.6 572.1 600.8 572.5 605" fill="none" stroke="#000" stroke-width="3.5"/>
<path d="M580 460C582.1 463.8 584.6 467.3 586.2 471.2C588.3 476.1 590.2 481.1 591.2 486.2C592.3 491.1 593 496.4 592.5 501.2C592.2 503.9 589.3 506.1 588.8 508.8C587.9 512.7 587.9 517.1 588.1 521.2C588.4 526.1 589.4 531.5 590 535.9C590 536.1 590 534.7 590 535C590 539.4 590.5 545 590 550C589.6 554.2 588.6 558.4 587.5 562.5C586.6 565.9 585 569.2 583.8 572.5" fill="none" stroke="#000" stroke-width="3.1"/>
<path d="M571.2 450.6L586.2 454.4L596.2 466.2L602.5 480L603.8 488.8L600 490L598.1 502.5L595 506.2L592.5 492.5L588.8 477.5L582.5 463.8Z" fill="#000" stroke="#000" stroke-width="1.5"/>
<path d="M601.9 488.8C603.3 487.5 605.4 486.6 606.2 485C607.3 482.9 607.8 479.9 607.5 477.5C607 474.1 605.3 470.7 603.8 467.5C602 464 600.1 460.1 597.5 457.5C596.4 456.4 594.2 456.7 592.5 456.2" fill="none" stroke="#000" stroke-width="2.8"/>
<path d="M598.1 502.5C598.1 513.6 597.7 525.5 598.1 535.9C598.1 536.3 599.4 534.6 599.4 535C599.2 539.3 598.6 545.1 597.5 550C597.1 551.8 595.8 553.3 595 555" fill="none" stroke="#000" stroke-width="4.2"/>
<path d="M596.9 558.8L591.2 572.5L585 583.8L581.2 595L580 603.1L576.2 603.8L577.5 592.5L581.9 581.2L588.8 568.8L594.4 557.5Z" fill="#000" stroke="#000" stroke-width="1.5"/>
<path d="M597.5 553.1C598.8 555 600.5 556.7 601.2 558.8C602.2 561.5 602.7 564.6 602.5 567.5C602.3 570.1 601.6 573.1 600 575C598.2 577.2 595.1 578.5 592.5 580C590.5 581.2 588.3 582.1 586.2 583.1" fill="none" stroke="#000" stroke-width="3.5"/>
<path d="M586.2 586.2C587.3 587.1 589 587.6 589.4 588.8C590.1 590.9 590 593.9 589.4 596.2C588.9 598.1 587.8 600.1 586.2 601.2C583 603.8 579 605.9 575 607.5C570.6 609.3 565.8 610 561.2 611.2" fill="none" stroke="#000" stroke-width="3.5"/>
<ellipse cx="463.7" cy="350.8" rx="14.5" ry="11" transform="rotate(55 463.7 350.8)" fill="#fff" stroke="#000" stroke-width="3.9"/>
<ellipse cx="462.7" cy="351.3" rx="10.5" ry="6" transform="rotate(58 462.7 351.3)" fill="none" stroke="#000" stroke-width="3.1"/>
<path d="M459.5 346.8A6.5 2.6 60 1 0 465.1 356.5" fill="none" stroke="#000" stroke-width="2.4"/>
<ellipse cx="568.8" cy="481.5" rx="14.5" ry="11" transform="rotate(55 568.8 481.5)" fill="#fff" stroke="#000" stroke-width="3.9"/>
<ellipse cx="567.8" cy="482" rx="10.5" ry="6" transform="rotate(58 567.8 482)" fill="none" stroke="#000" stroke-width="3.1"/>
<path d="M564.6 477.5A6.5 2.6 60 1 0 570.2 487.2" fill="none" stroke="#000" stroke-width="2.4"/>
<ellipse cx="443.5" cy="536.5" rx="14.5" ry="11" transform="rotate(55 443.5 536.5)" fill="#fff" stroke="#000" stroke-width="3.9"/>
<ellipse cx="442.5" cy="537" rx="10.5" ry="6" transform="rotate(58 442.5 537)" fill="none" stroke="#000" stroke-width="3.1"/>
<path d="M439.3 532.5A6.5 2.6 60 1 0 444.9 542.2" fill="none" stroke="#000" stroke-width="2.4"/>
<ellipse cx="551.2" cy="596.5" rx="14.5" ry="11" transform="rotate(55 551.2 596.5)" fill="#fff" stroke="#000" stroke-width="3.9"/>
<ellipse cx="550.2" cy="597" rx="10.5" ry="6" transform="rotate(58 550.2 597)" fill="none" stroke="#000" stroke-width="3.1"/>
<path d="M547.1 592.5A6.5 2.6 60 1 0 552.7 602.2" fill="none" stroke="#000" stroke-width="2.4"/>
<path d="M748.9 473.7C750.9 471.6 754 470.9 756.6 469.8C759.3 468.7 762.1 467.7 765 467C767.9 466.2 770.9 465.5 773.8 465.1C776.9 464.6 780.1 464.3 783.2 464.2C786.5 464.1 789.8 464.1 793 464.3C796.4 464.5 799.9 464.9 803.2 465.5C806.8 466 810.3 466.7 813.8 467.6C817.4 468.5 821 469.5 824.6 470.7C828.3 471.9 832 473.3 835.6 474.8C839.4 476.4 843.1 478.1 846.8 479.8C850.6 481.7 854.3 483.7 858 485.8C861.8 488 865.6 490.3 869.3 492.6C873.1 495.1 876.8 497.7 880.5 500.3C884.3 503.1 888 505.9 891.6 508.8C895.3 511.8 899 514.9 902.6 518C906.2 521.3 909.8 524.6 913.3 528C916.8 531.4 920.3 535 923.7 538.6C927.1 542.2 930.5 545.9 933.8 549.7C937 553.6 940.3 557.5 943.4 561.4C946.5 565.4 949.6 569.4 952.6 573.6C955.6 577.7 958.4 581.8 961.2 586.1C964 590.3 966.7 594.6 969.3 598.9C971.9 603.2 974.4 607.6 976.8 612C979.2 616.4 981.5 620.8 983.6 625.2C985.8 629.6 987.8 634.1 989.7 638.6C991.6 643 993.4 647.4 995.1 651.9C996.8 656.3 998.3 660.7 999.8 665.2C1001.2 669.5 1002.4 673.9 1003.6 678.3C1004.7 682.6 1005.8 686.9 1006.6 691.3C1007.5 695.5 1008.2 699.7 1008.8 703.9C1009.4 708 1009.9 712.1 1010.2 716.2C1010.5 720.1 1010.7 724.1 1010.7 728.1C1010.8 731.8 1010.7 735.6 1010.4 739.4C1010.2 743 1009.8 746.6 1009.2 750.2C1008.7 753.6 1008 757 1007.2 760.4C1006.4 763.6 1005.5 766.8 1004.3 769.9C1003.3 772.9 1002.1 775.8 1000.7 778.7C999.3 781.4 997.9 784.1 996.2 786.6C994.6 789.1 992.9 791.5 991 793.8C989.1 796 987.2 798.2 985 800.1C980.5 803.9 976.1 808.1 971 811C966.1 813.9 960.3 815.2 955 817.5C950.8 819.4 946.5 821.4 942.5 823.8C938.2 826.4 934.2 829.7 930 832.5C923.7 836.7 917.7 841.7 911 845C905.2 847.8 898.8 850.1 892.5 851C884.3 852.2 875.8 851.1 867.5 851.5C860.3 851.8 852.7 854.3 846 853C840.9 852 836.6 847.4 832 844.5C825 840.1 818.2 835.2 811 831C805 827.5 798.7 824.4 792.5 821.2C786.7 818.3 780.8 815.6 775 812.5C768.3 808.9 761.5 805.3 755 801.2C748.1 797 741.5 792.3 735 787.5C729.8 783.6 724.8 779.4 720 775C716.4 771.7 713.7 767.6 710 764.5C705.3 760.6 699.2 758.3 695 754C689.6 748.5 685.3 741.6 681.2 735C677.8 729.5 675.3 723.4 672.5 717.5C669.4 710.9 666.2 704.3 663.8 697.5C660.8 689.3 658.3 680.9 656.2 672.5C653.9 663 652.1 653.4 650.6 643.8C649.3 635.5 648.4 627.1 648 618.8C647.7 612.8 647.9 606.8 648.6 601C649 598.1 650.4 595.3 651.2 592.5C652.5 588.3 653.4 584 655 580C656.7 575.7 659 571.6 661.2 567.5C663.6 563.2 666.2 559.2 668.8 555C671.2 550.8 673.6 546.5 676.2 542.5C679.4 537.8 682.4 532.8 686.2 528.8C690.3 524.5 695.2 521 700 517.5C704.8 513.9 710.2 511.1 715 507.5C718.9 504.6 722.3 500.9 726.2 498C729.2 495.8 733.1 494.7 735.6 492C740.7 486.6 743.8 479 748.9 473.7Z" fill="#fff" stroke="#fff" stroke-width="0.1"/>
<path d="M748.9 473.7C751.5 472.4 754 470.9 756.6 469.8C759.3 468.7 762.1 467.7 765 467C767.9 466.2 770.9 465.5 773.8 465.1C776.9 464.6 780.1 464.3 783.2 464.2C786.5 464.1 789.8 464.1 793 464.3C796.4 464.5 799.9 464.9 803.2 465.5C806.8 466 810.3 466.7 813.8 467.6C817.4 468.5 821 469.5 824.6 470.7C828.3 471.9 832 473.3 835.6 474.8C839.4 476.4 843.1 478.1 846.8 479.8C850.6 481.7 854.3 483.7 858 485.8C861.8 488 865.6 490.3 869.3 492.6C873.1 495.1 876.8 497.7 880.5 500.3C884.3 503.1 888 505.9 891.6 508.8C895.3 511.8 899 514.9 902.6 518C906.2 521.3 909.8 524.6 913.3 528C916.8 531.4 920.3 535 923.7 538.6C927.1 542.2 930.5 545.9 933.8 549.7C937 553.6 940.3 557.5 943.4 561.4C946.5 565.4 949.6 569.4 952.6 573.6C955.6 577.7 958.4 581.8 961.2 586.1C964 590.3 966.7 594.6 969.3 598.9C971.9 603.2 974.4 607.6 976.8 612C979.2 616.4 981.5 620.8 983.6 625.2C985.8 629.6 987.8 634.1 989.7 638.6C991.6 643 993.4 647.4 995.1 651.9C996.8 656.3 998.3 660.7 999.8 665.2C1001.2 669.5 1002.4 673.9 1003.6 678.3C1004.7 682.6 1005.8 686.9 1006.6 691.3C1007.5 695.5 1008.2 699.7 1008.8 703.9C1009.4 708 1009.9 712.1 1010.2 716.2C1010.5 720.1 1010.7 724.1 1010.7 728.1C1010.8 731.8 1010.7 735.6 1010.4 739.4C1010.2 743 1009.8 746.6 1009.2 750.2C1008.7 753.6 1008 757 1007.2 760.4C1006.4 763.6 1005.5 766.8 1004.3 769.9C1003.3 772.9 1002.1 775.8 1000.7 778.7C999.3 781.4 997.9 784.1 996.2 786.6C994.6 789.1 992.9 791.5 991 793.8C989.1 796 987.2 798.2 985 800.1C980.5 803.9 976.1 808.1 971 811C966.1 813.9 960.3 815.2 955 817.5C950.8 819.4 946.5 821.4 942.5 823.8C938.2 826.4 934.2 829.7 930 832.5C923.7 836.7 917.7 841.7 911 845C905.2 847.8 898.8 850.1 892.5 851C884.3 852.2 875.8 851.1 867.5 851.5C860.3 851.8 852.7 854.3 846 853C840.9 852 836.6 847.4 832 844.5C825 840.1 818.2 835.2 811 831C805 827.5 798.7 824.4 792.5 821.2C786.7 818.3 780.8 815.6 775 812.5C768.3 808.9 761.5 805.3 755 801.2C748.1 797 741.5 792.3 735 787.5C729.8 783.6 724.8 779.4 720 775C716.4 771.7 713.7 767.6 710 764.5C705.3 760.6 699.2 758.3 695 754C689.6 748.5 685.3 741.6 681.2 735C677.8 729.5 675.3 723.4 672.5 717.5C669.4 710.9 666.2 704.3 663.8 697.5C660.8 689.3 658.3 680.9 656.2 672.5C653.9 663 652.1 653.4 650.6 643.8C649.3 635.5 648.4 627.1 648 618.8C647.7 612.8 647.9 606.8 648.6 601C649 598.1 650.4 595.3 651.2 592.5C652.5 588.3 653.4 584 655 580C656.7 575.7 659 571.6 661.2 567.5C663.6 563.2 666.2 559.2 668.8 555C671.2 550.8 673.6 546.5 676.2 542.5C679.4 537.8 682.4 532.8 686.2 528.8C690.3 524.5 695.2 521 700 517.5C704.8 513.9 710.2 511.1 715 507.5C718.9 504.6 722.3 500.9 726.2 498C729.2 495.8 732.5 494 735.6 492" fill="none" stroke="#000" stroke-width="6.6"/>
<path d="M789.5 471.2A196.6 108.3 55.5 0 1 972.2 805.3" fill="none" stroke="#000" stroke-width="2.8"/>
<path d="M994.1 663.3A199.4 110.8 55 0 1 983.5 798.5" fill="none" stroke="#000" stroke-width="2.4"/>
<path d="M688.2 528.3A193.2 104.8 54.7 1 1 875.7 844.5" fill="none" stroke="#000" stroke-width="4"/>
<path d="M694.8 531.3A184.9 101.5 54.4 1 1 883.5 839.5" fill="none" stroke="#000" stroke-width="3.5"/>
<path d="M718.2 576.3A134.5 82 52.5 1 1 790.6 807.7" fill="none" stroke="#000" stroke-width="3.8"/>
<path d="M694.6 591.3A140.6 93.7 42.8 0 1 817.4 818" fill="none" stroke="#000" stroke-width="3.8"/>
<path d="M718.1 729.6A87.8 48.6 56.4 1 1 727.6 743.5" fill="none" stroke="#000" stroke-width="3.8"/>
<path d="M709.8 656.4A71.9 42 54.3 1 1 763.7 779.1" fill="none" stroke="#000" stroke-width="3.8"/>
<path d="M726 720.8A46.4 24.3 54.8 1 1 741.5 741.1" fill="none" stroke="#000" stroke-width="5.9"/>
<path d="M727.5 492.9L735.2 494" fill="none" stroke="#000" stroke-width="3.6"/>
<path d="M736.2 505L750 497.5" fill="none" stroke="#000" stroke-width="3.6"/>
<path d="M764.4 508.1L773.1 503.1" fill="none" stroke="#000" stroke-width="3.6"/>
<path d="M750 478.8L775 472.5" fill="none" stroke="#000" stroke-width="3.6"/>
<path d="M763.8 483.8L778.8 473.8" fill="none" stroke="#000" stroke-width="3.6"/>
<path d="M784.4 491.9L792.9 485" fill="none" stroke="#000" stroke-width="3.6"/>
<path d="M790 490L807.5 475.6" fill="none" stroke="#000" stroke-width="3.6"/>
<path d="M794.4 516.2L835 484.4" fill="none" stroke="#000" stroke-width="3.6"/>
<path d="M816.9 535L861.9 498.1" fill="none" stroke="#000" stroke-width="3.6"/>
<path d="M841.9 553.8L886.9 517.5" fill="none" stroke="#000" stroke-width="3.6"/>
<path d="M867.5 573.8L911.2 539.4" fill="none" stroke="#000" stroke-width="3.6"/>
<path d="M888.8 600L932.5 565" fill="none" stroke="#000" stroke-width="3.6"/>
<path d="M887.5 601.2L933.8 565" fill="none" stroke="#000" stroke-width="3.6"/>
<path d="M910 630L955 593.8" fill="none" stroke="#000" stroke-width="3.6"/>
<path d="M926.9 658.1L972.5 622.5" fill="none" stroke="#000" stroke-width="3.6"/>
<path d="M936.2 686.9L975 660" fill="none" stroke="#000" stroke-width="3.6"/>
<path d="M944.4 710L991.2 673.8" fill="none" stroke="#000" stroke-width="3.6"/>
<path d="M950 732.5L995 697.5" fill="none" stroke="#000" stroke-width="3.6"/>
<path d="M952.5 755L997.5 720.6" fill="none" stroke="#000" stroke-width="3.6"/>
<path d="M952.5 775.6L996.2 742.5" fill="none" stroke="#000" stroke-width="3.6"/>
<path d="M950 793.8L988.8 764.4" fill="none" stroke="#000" stroke-width="3.6"/>
<path d="M950 805.9L982.5 781.9" fill="none" stroke="#000" stroke-width="3.6"/>
<path d="M938.8 821.9L982.9 792.5" fill="none" stroke="#000" stroke-width="3.6"/>
<path d="M693.1 540.2C695.4 539.1 697.6 537.4 700 536.9C702.4 536.3 705.4 535.8 707.5 536.9C711.3 538.9 714 543.5 717.5 546.2C718.5 547.1 720 547.2 721.2 547.8" fill="none" stroke="#000" stroke-width="4"/>
<path d="M693.8 541.2C697.5 545.4 700.9 550.1 705 553.8C706.3 554.9 708.3 555 710 555.6" fill="none" stroke="#000" stroke-width="4"/>
<path d="M715 546.9L748.8 547.2L750.6 550L745 556L709.4 556L705 553.8L710 551.2L716.2 551.2Z" fill="#000" stroke="#000" stroke-width="1.2"/>
<path d="M698.1 543.1L709.4 553.1" fill="none" stroke="#000" stroke-width="1.9"/>
<path d="M703.1 540.6L716.2 550" fill="none" stroke="#000" stroke-width="1.9"/>
<path d="M748.8 550.2C751.7 548.2 754.4 545.8 757.5 544C759.8 542.7 762.4 541.4 765 540.9C767.4 540.4 770.1 540.4 772.5 540.9C775.9 541.5 779.3 542.6 782.5 544C786.1 545.6 789.7 547.7 792.9 550C794.7 551.3 796.1 553.2 797.5 555C799.7 557.8 802 560.6 803.8 563.8C805.5 566.9 806.7 570.4 808.1 573.8L823.8 565C827.5 567.9 831.6 570.5 835 573.8C838.6 577.2 842.1 580.9 845 585C847.1 588 848.6 591.6 850 595C850.7 596.8 850.8 598.9 851.2 600.9" fill="none" stroke="#000" stroke-width="4.5"/>
<path d="M767.5 545C770.8 545.8 774.4 546.1 777.5 547.5C781.1 549.1 784.3 551.4 787.5 553.8C789.5 555.2 791 557.2 792.9 558.8C793.9 559.7 795.5 560.1 796.2 561.2C798.3 564.7 799.3 568.9 801.2 572.5C802.7 575.1 804.1 577.9 806.2 580C810.8 584.6 816.3 588.3 821.2 592.5C824.6 595.3 827.9 598.1 831.2 600.9" fill="none" stroke="#000" stroke-width="3.1"/>
<path d="M766.2 548.1C770 549.4 774.1 550 777.5 551.9C780.7 553.6 783.4 556.3 786.2 558.8C788.6 560.7 791.4 562.5 792.9 565C794.3 567.5 793.9 571 795 573.8C796.3 577.2 797.6 580.9 800 583.8C804.3 588.9 810 592.9 815 597.5C816.2 598.6 817.5 599.8 818.8 600.9" fill="none" stroke="#000" stroke-width="3.1"/>
<ellipse cx="763.8" cy="571.5" rx="14.5" ry="10.5" transform="rotate(58 763.8 571.5)" fill="#000" stroke="#000" stroke-width="3.1"/>
<ellipse cx="760.1" cy="574.3" rx="7.5" ry="3.4" transform="rotate(58 760.1 574.3)" fill="#fff" stroke="#fff" stroke-width="0.5"/>
<path d="M775 557.5C777.1 559.6 779.8 561.3 781.2 563.8C782.7 566.3 783.8 569.6 783.8 572.5C783.8 575.4 782.1 578.3 781.2 581.2" fill="none" stroke="#000" stroke-width="3.5"/>
<path d="M687.5 600.9L686.2 592.5C690.8 586.7 694.8 580 700 575C701.5 573.5 704.1 573.3 706.2 573.1C709.9 572.9 713.8 573.2 717.5 573.8C720.9 574.2 724.2 575.4 727.5 576.2" fill="none" stroke="#000" stroke-width="4.2"/>
<path d="M693.8 590C700.8 591.2 708 592.1 715 593.8C723.4 595.7 731.7 598.5 740 600.9" fill="none" stroke="#000" stroke-width="3.5"/>
<path d="M656.2 596.2C659.2 595.2 662.1 593.1 665 593.1C667.5 593.1 670.3 594.8 672.5 596.2C674.1 597.3 675 599.3 676.2 600.9" fill="none" stroke="#000" stroke-width="4.2"/>
<ellipse cx="658.5" cy="612.3" rx="13.5" ry="10" transform="rotate(58 658.5 612.3)" fill="#000" stroke="#000" stroke-width="3.1"/>
<ellipse cx="655" cy="613.5" rx="6.5" ry="3.2" transform="rotate(55 655 613.5)" fill="#fff" stroke="#fff" stroke-width="0.5"/>
<path d="M671.2 600C673.3 602.5 676 604.7 677.5 607.5C678.5 609.3 679 611.8 678.8 613.8C678.6 615.5 677.1 617.1 676.2 618.8" fill="none" stroke="#000" stroke-width="3.5"/>
<path d="M687.5 600C689.2 603.3 691.1 606.6 692.5 610C693.6 612.8 694.8 615.8 695 618.8C695.2 621.6 694.8 624.9 693.8 627.5C693.1 629.1 691.2 630 690 631.2" fill="none" stroke="#000" stroke-width="3.5"/>
<path d="M668.8 631.9C670.4 629.6 671.5 626.4 673.8 625C676.1 623.5 679.6 623.8 682.5 623.1C685.4 622.5 688.3 621.9 691.2 621.2" fill="none" stroke="#000" stroke-width="3.1"/>
<path d="M669.4 633.1C672.1 632.9 674.8 633 677.5 632.5C680.5 632 683.7 631.4 686.2 630C688.3 628.9 689.6 626.7 691.2 625" fill="none" stroke="#000" stroke-width="3.1"/>
<path d="M668.8 632.5C667.1 636.2 664.9 639.8 663.8 643.8C662.4 648.6 661.5 653.7 661.2 658.8C661.1 663.3 661.9 668 662.5 672.5C663.1 676.7 664.2 680.8 665 685" fill="none" stroke="#000" stroke-width="3.5"/>
<ellipse cx="681.9" cy="696.9" rx="18.5" ry="10.2" transform="rotate(56 681.9 696.9)" fill="none" stroke="#000" stroke-width="4"/>
<path d="M735 681.2C735.8 685.8 736.2 690.5 737.5 695C739.1 700.5 741.7 705.8 743.8 711.2" fill="none" stroke="#000" stroke-width="7.1"/>
<path d="M755 725C758.3 727.9 761.3 731.4 765 733.8C768.4 736 772.4 737.7 776.2 738.8C778.6 739.4 781.2 738.8 783.8 738.8" fill="none" stroke="#000" stroke-width="5.9"/>
<path d="M737.5 736.2L746.2 745.9" fill="none" stroke="#000" stroke-width="4.7"/>
<path d="M727.5 742.5L730 745.9" fill="none" stroke="#000" stroke-width="4.7"/>
<path d="M816.2 600C822.1 605.4 828.2 610.5 833.8 616.2C840.3 623 846.9 629.9 852.5 637.5C857.3 644.1 861.1 651.5 865 658.8C868.6 665.3 871.1 672.4 875 678.8C877.8 683.3 881.2 687.5 885 691.2C888.8 695 893.9 697.4 897.5 701.2C900.6 704.5 903.1 708.5 905 712.5C906.8 716.4 907.8 720.8 908.8 725C909.5 728.3 909.6 731.7 910 735" fill="none" stroke="#000" stroke-width="3.5"/>
<path d="M821.2 600C827.1 605.4 833.3 610.4 838.8 616.2C845 622.9 851 630 856.2 637.5C861 644.2 864.8 651.5 868.8 658.8C872.1 664.9 874.4 671.7 878.1 677.5C881.1 682.1 884.9 686.1 888.8 690C892.4 693.6 897.2 696.2 900.6 700C903.7 703.5 906.2 707.6 908.1 711.9C910 716 910.9 720.6 911.9 725C912.5 727.9 912.7 730.8 913.1 733.8" fill="none" stroke="#000" stroke-width="2.6"/>
<path d="M825 600C830.8 605.4 837.1 610.4 842.5 616.2C848.7 622.9 854.7 630 860 637.5C864.7 644.2 868.6 651.5 872.5 658.8C875.6 664.5 877.7 670.9 881.2 676.2C884.3 680.9 888.5 684.8 892.5 688.8C896 692.3 900.6 694.9 903.8 698.8C906.8 702.4 909.4 706.8 911.2 711.2C913.1 715.6 914 720.4 915 725C915.7 728.3 915.8 731.7 916.2 735" fill="none" stroke="#000" stroke-width="3.5"/>
<path d="M850 600C850.4 601.7 850.3 603.6 851.2 605C855.3 610.7 860.6 615.7 865 621.2C870.2 627.8 875.2 634.5 880 641.2C884.3 647.4 888.7 653.5 892.5 660C894.8 663.9 897 668.1 898.1 672.5C899.1 676.5 898.5 680.8 898.8 685C901.7 686.7 905 687.8 907.5 690C910.8 692.8 914 696.3 916.2 700C918.6 703.8 920 708.2 921.2 712.5C922.5 716.6 923.5 720.8 923.8 725C923.9 727.5 923.7 730.5 922.5 732.5C921.2 734.6 918.3 735.8 916.2 737.5" fill="none" stroke="#000" stroke-width="4"/>
<path d="M885 602.5C890.8 609.6 897.3 616.2 902.5 623.8C908.2 632 912.9 641 917.5 650C921.7 658.1 925.4 666.5 928.8 675C932 683.2 934.8 691.6 937.5 700C939.5 706.2 941.1 712.5 942.9 718.8" fill="none" stroke="#000" stroke-width="2.1"/>
<path d="M871.2 718.8L882.5 712.5L890 720L891.5 732.5L887.5 736.5L876.2 736.5L871.9 726.2Z" fill="#000" stroke="#000" stroke-width="2"/>
<path d="M874 724L881 731.2" fill="none" stroke="#fff" stroke-width="2.2"/>
<path d="M871.2 718.1C873.3 715.6 875 712.5 877.5 710.6C879.6 709.1 882.5 707.8 885 707.8C887.1 707.8 889.4 709.4 891.2 710.6C893.5 712.2 895.9 714 897.5 716.2C899.3 718.8 901 722.1 901.2 725C901.4 727.1 899.6 729.2 898.8 731.2" fill="none" stroke="#000" stroke-width="3.5"/>
<path d="M902.5 745.9C903.3 743.9 903.7 741.6 905 740C906.2 738.4 908.3 737.5 910 736.2" fill="none" stroke="#000" stroke-width="3.5"/>
<path d="M920 660C923.3 667.9 927 675.7 930 683.8C932.9 691.5 935.3 699.5 937.5 707.5C939.5 714.9 940.8 722.5 942.5 730" fill="none" stroke="#000" stroke-width="2.1"/>
<path d="M900 685C902.5 687.1 905.3 688.9 907.5 691.2C910.7 694.7 914 698.4 916.2 702.5C918.6 706.7 919.9 711.6 921.2 716.2C922.4 719.9 922.9 723.8 923.8 727.5L923.8 731.2L917.5 737.5C914.2 738.3 910.5 738.6 907.5 740C905.9 740.7 904.1 742.1 903.8 743.8C902.8 748.8 903.5 754.6 903.8 760C903.9 764.2 905.2 768.3 905 772.5C904.7 778.8 903.6 785.1 902.5 791.2C902 794.2 900.8 797.1 900 800" fill="none" stroke="#000" stroke-width="4.2"/>
<path d="M900 692.5C902.1 694.6 904.6 696.4 906.2 698.8C908.7 702.2 910.7 706.1 912.5 710C914.5 714.4 916 719.1 917.5 723.8C918.5 727 919.2 730.4 920 733.8" fill="none" stroke="#000" stroke-width="2.8"/>
<path d="M900 701.2C901.7 704.2 903.6 707 905 710C906.9 714.1 908.5 718.3 910 722.5C911.4 726.6 912.5 730.8 913.8 735" fill="none" stroke="#000" stroke-width="2.8"/>
<path d="M907.5 741.2C908.1 747.5 909 753.7 909.4 760C909.8 766.2 910.5 772.6 910 778.8C909.5 785.1 907.5 791.2 906.2 797.5" fill="none" stroke="#000" stroke-width="3.1"/>
<path d="M913.8 740C914.6 745.8 915.9 751.6 916.2 757.5C916.5 762.5 916.2 767.5 915.6 772.5C914.9 778.8 914 785.1 912.5 791.2C911.3 796.2 909.2 801 907.5 805.9" fill="none" stroke="#000" stroke-width="3.5"/>
<path d="M708.8 768.8C711.2 771.2 713.5 774 716.2 776.2C719.4 778.8 722.9 780.8 726.2 783.1" fill="none" stroke="#000" stroke-width="2.1"/>
<path d="M905 740C904.2 741.2 902.6 742.3 902.5 743.8C902 750.6 903.6 758 903.1 765C902.7 771.3 901.5 777.6 900 783.8C898.8 788.9 897.3 794 895 798.8C892.7 803.6 889.7 808.4 886.2 812.5C883.4 815.9 879.5 818.2 876.2 821.2C874.1 823.2 871.3 825 870 827.5C868.8 829.6 868.8 832.5 868.8 835C868.8 837.9 869.6 840.8 870 843.8" fill="none" stroke="#000" stroke-width="4"/>
<path d="M908.1 742.5C907.9 750 908.3 757.6 907.5 765C906.8 771.3 905.2 777.6 903.8 783.8C902.7 788 901.2 792.1 900 796.2" fill="none" stroke="#000" stroke-width="2.1"/>
<path d="M912.5 742.5C913.8 746.7 915.9 750.7 916.2 755C916.7 760.7 915.9 766.7 915 772.5C914.2 777.6 913.1 782.7 911.2 787.5C909.7 791.5 907.5 795.3 905 798.8C902.1 802.8 898.4 806.3 895 810C891.8 813.4 887.4 816.2 885 820C883.7 822 883.9 825 883.8 827.5C883.5 831.2 883.8 835 883.8 838.8" fill="none" stroke="#000" stroke-width="5.9"/>
<path d="M873.8 826.2L873.1 842.5" fill="none" stroke="#000" stroke-width="2.8"/>
<path d="M879.4 827.5L880 838.8" fill="none" stroke="#000" stroke-width="2.8"/>
<path d="M830 831.2L840 826.2L847.5 832.5L851.2 842.5L848.8 850L837.5 850L830 845Z" fill="#000" stroke="#000" stroke-width="2"/>
<ellipse cx="835.6" cy="841.5" rx="5.5" ry="2.8" transform="rotate(55 835.6 841.5)" fill="#fff" stroke="#fff" stroke-width="0.5"/>
<path d="M830 830C832.1 827.5 833.7 824.2 836.2 822.5C838.7 820.9 842.1 819.8 845 820C848 820.2 851.5 821.8 853.8 823.8C856.3 825.9 858.2 829.4 859.4 832.5C860.2 834.8 860.5 837.7 860 840C859.7 841.6 857.9 842.9 856.9 844.4" fill="none" stroke="#000" stroke-width="3.5"/>
<path d="M82.5 649.5C79.2 650.3 75.5 650.5 72.5 652C69.3 653.6 66 656 63.8 658.8C61.4 661.6 59.7 665.2 58.8 668.8C57.8 672.3 57.8 676.3 58.2 680C59 685.9 60.4 691.9 62.5 697.5C65.1 704.4 68.7 711.1 72.5 717.5C76.2 723.6 80.6 729.4 85 735C89.7 741 94.6 747.1 100 752.5C104.2 756.7 108.9 760.4 113.8 763.8C116 765.4 118.7 767 121.2 767.5C122.8 767.8 124.6 766.7 126.2 766.2L145 755L146 740.5L157.5 734.2C157.8 731.2 158.7 728 158.2 725C157.4 719.1 155.9 713.1 153.8 707.5C151.1 700.6 147.5 693.9 143.8 687.5C139.6 680.6 135.1 673.7 130 667.5C125.5 662.1 120.4 657 115 652.5C112 650 108.5 647.9 105 646.5C103.5 645.9 101.7 646.5 100 646.5L93.8 652C91.7 651.3 89.6 650.5 87.5 650C85.9 649.6 84.2 649.7 82.5 649.5Z" fill="#fff" stroke="#000" stroke-width="4.7"/>
<path d="M67.5 660C72.5 663.3 78.2 665.9 82.5 670C89 676.3 94.7 683.8 100 691.2C105.6 699.2 110.6 707.6 115 716.2C118.9 723.9 122.2 731.9 125 740C127.2 746.5 129 753.3 130 760C130.2 761.7 129.2 763.3 128.8 765" fill="none" stroke="#000" stroke-width="2.4"/>
<path d="M94.5 657.5C99.7 662.1 105.6 666 110 671.2C116.6 678.9 122.4 687.5 127.5 696.2C132.4 704.6 136.5 713.5 140 722.5C142.8 729.7 144.7 737.4 146.2 745C146.8 747.4 146.2 750 146.2 752.5" fill="none" stroke="#000" stroke-width="2.4"/>
<ellipse cx="95.2" cy="712.6" rx="23.5" ry="9.3" transform="rotate(57 95.2 712.6)" fill="none" stroke="#000" stroke-width="4"/>
<path d="M86.2 695C86.7 698.3 86.5 701.9 87.5 705C89 709.4 91.2 713.6 93.8 717.5C95.8 720.7 98.5 723.5 101.2 726.2C102.7 727.7 104.6 728.8 106.2 730" fill="none" stroke="#000" stroke-width="2.8"/>
<path d="M346.2 923.8C344.2 924.6 341.9 925.1 340 926.2C337.3 928 334.9 930.3 332.5 932.5C329.9 934.9 326.3 936.9 325 940C323.5 943.6 323.4 948.5 324.2 952.5C325.5 958.5 328.8 964.2 331.2 970C334.1 976.7 336.3 983.8 340 990C344.2 997.1 349.6 1003.7 355 1010C360.4 1016.2 366.2 1022.2 372.5 1027.5C377.1 1031.4 382.2 1035 387.5 1037.5C390.1 1038.7 393.3 1038.3 396.2 1038.8L416.2 1026.2L417 1015L423.8 1010.8C425.2 1009.2 427.6 1008.1 428 1006.2C428.8 1002.9 428.1 998.7 427.5 995C426.3 988.3 424.9 981.4 422.5 975C419.9 968.1 416.4 961.3 412.5 955C408.1 948 403.2 941 397.5 935C393.2 930.5 387.8 927 382.5 923.8C379 921.6 375.1 919.6 371.2 918.8C369.4 918.3 367.4 919.6 365.5 920L358.8 926.2C356.7 925.7 354.6 924.9 352.5 924.5C350.4 924.1 348.3 924 346.2 923.8Z" fill="#fff" stroke="#000" stroke-width="4.7"/>
<path d="M333.8 935C339.2 937.9 345.5 939.7 350 943.8C356.7 949.7 362.2 957.6 367.5 965C373.8 973.8 379.8 983 385 992.5C389.4 1000.5 393.5 1008.9 396.2 1017.5C398 1023.1 397.9 1029.2 398.8 1035" fill="none" stroke="#000" stroke-width="2.4"/>
<path d="M360 927.5C365 931.7 370.6 935.3 375 940C381.4 946.9 387.2 954.6 392.5 962.5C397.2 969.6 401.3 977.3 405 985C408.4 992.3 411.3 999.9 413.8 1007.5C415 1011.5 415.4 1015.8 416.2 1020" fill="none" stroke="#000" stroke-width="2.4"/>
<path d="M346.2 932.5C351.7 935.8 358 938.1 362.5 942.5C370.1 949.8 376.6 958.7 382.5 967.5C388.3 976.2 393 985.6 397.5 995C400.9 1002.3 404 1009.8 406.2 1017.5C407.5 1021.5 407.4 1025.8 408 1030" fill="none" stroke="#000" stroke-width="2.4"/>
<ellipse cx="363.8" cy="987" rx="25" ry="9.5" transform="rotate(57 363.8 987)" fill="none" stroke="#000" stroke-width="4"/>
<path d="M351.8 968C355.3 969.5 359.8 969.9 362.5 972.5C366.7 976.4 369.6 982.3 372.5 987.5C375 991.9 376.7 996.7 378.8 1001.2" fill="none" stroke="#000" stroke-width="3.1"/>
<path d="M211.2 617.5L357 528C358.4 526.4 359.6 524.6 361.2 523.2C363.1 521.7 365.4 520.8 367.5 519.5L430 483C432.1 482 434.4 479.3 436.2 480C440 481.5 444 485.8 446.8 489.5C449.5 493.3 451.5 498 452.5 502.5C453.1 505.2 452.5 508.5 451.5 511C450.8 512.7 448.8 513.7 447.5 515L390 548.8C388.8 550 387.8 552.1 386.2 552.5C384.4 553 382.1 551.7 380 551.2L227.5 642.5L211.2 617.5Z" fill="#fff" stroke="#000" stroke-width="4.7"/>
<path d="M368.8 522.5C371.7 524.6 375.2 526.1 377.5 528.8C380.2 531.9 382.2 536 383.8 540C385 543.3 385.1 547 385.8 550.5" fill="none" stroke="#000" stroke-width="1.7"/>
<path d="M381.2 515C384.2 517.1 387.7 518.6 390 521.2C392.7 524.4 394.7 528.5 396.2 532.5C397.5 535.8 397.6 539.5 398.2 543" fill="none" stroke="#000" stroke-width="1.7"/>
<path d="M393.8 508C396.7 510.1 400.2 511.6 402.5 514.2C405.2 517.4 407.2 521.5 408.8 525.5C410 528.8 410.1 532.5 410.8 536" fill="none" stroke="#000" stroke-width="1.7"/>
<path d="M405 501.2C407.9 503.3 411.5 504.8 413.8 507.5C416.5 510.7 418.5 514.8 420 518.8C421.2 522 421.3 525.8 422 529.2" fill="none" stroke="#000" stroke-width="1.7"/>
<path d="M415 495.5C417.9 497.6 421.5 499.1 423.8 501.8C426.5 504.9 428.5 509 430 513C431.2 516.3 431.3 520 432 523.5" fill="none" stroke="#000" stroke-width="1.7"/>
<path d="M426.2 489.2C429.2 491.3 432.7 492.8 435 495.5C437.7 498.7 439.7 502.8 441.2 506.8C442.5 510 442.6 513.8 443.2 517.2" fill="none" stroke="#000" stroke-width="1.7"/>
<line x1="140" y1="683.8" x2="177.5" y2="659.5" stroke="#000" stroke-width="2.6"/>
<line x1="444.5" y1="493.5" x2="495.5" y2="464" stroke="#000" stroke-width="2.6"/>
<path d="M475 885L616 790.5C617.7 788 619 785.2 621 783C622.9 780.9 625.3 779.3 627.5 777.5L682.5 740C685.7 738.7 689.1 735.4 692 736C695.6 736.7 699.9 740.6 702 744C704.2 747.6 705.2 752.8 705 757C704.9 759.8 702.3 762.3 701 765L650 808.5C648.3 809.8 646.9 811.7 645 812.5C642.7 813.4 640 813.3 637.5 813.8L491.2 910L475 885Z" fill="#fff" stroke="#000" stroke-width="4.7"/>
<path d="M625 785C627.5 786.7 630.7 787.7 632.5 790C634.7 792.7 636 796.5 637 800C637.9 803 637.7 806.3 638 809.5" fill="none" stroke="#000" stroke-width="2.1"/>
<path d="M637.5 777C640 778.7 643.2 779.7 645 782C647.2 784.7 648.5 788.5 649.5 792C650.4 795 650.2 798.3 650.5 801.5" fill="none" stroke="#000" stroke-width="2.1"/>
<path d="M650 768.8C652.5 770.4 655.7 771.5 657.5 773.8C659.7 776.5 661 780.3 662 783.8C662.9 786.8 662.7 790.1 663 793.2" fill="none" stroke="#000" stroke-width="2.1"/>
<path d="M662.5 760.8C665 762.4 668.2 763.5 670 765.8C672.2 768.5 673.5 772.3 674.5 775.8C675.4 778.8 675.2 782.1 675.5 785.2" fill="none" stroke="#000" stroke-width="2.1"/>
<path d="M673.8 753C676.2 754.7 679.4 755.7 681.2 758C683.4 760.7 684.8 764.5 685.8 768C686.6 771 686.4 774.3 686.8 777.5" fill="none" stroke="#000" stroke-width="2.1"/>
<path d="M683.8 746.2C686.2 747.9 689.4 749 691.2 751.2C693.4 754 694.8 757.8 695.8 761.2C696.6 764.3 696.4 767.6 696.8 770.8" fill="none" stroke="#000" stroke-width="2.1"/>
<line x1="706" y1="745" x2="763.5" y2="708.5" stroke="#000" stroke-width="2.6"/>
<path d="M173.8 621.2C170.8 625 164 626.6 160 630C158.6 631.2 157.8 633.2 157.5 635C157.1 637.4 157.6 640.1 158.1 642.5C158.9 645.9 160 649.2 161.2 652.5C161.9 654.2 162.8 655.9 163.8 657.5C166.6 662.3 169.5 667.1 172.5 671.9C174.5 675 176.3 678.4 178.8 681.2C181.3 684.3 184.2 687.5 187.5 689.4C189.2 690.4 191.8 690.5 193.8 690C196 689.4 198 687.6 200 686.2C202.2 684.7 204.2 681.2 206.2 681.2C208.3 681.2 210.2 685 212.5 686.2C214.6 687.3 217.9 688.7 219.4 688.1C220.4 687.7 219.1 684.5 220 683.1C221.4 680.9 223.8 678.3 226.2 677.5C228.6 676.7 233 679.3 234.4 678.1C235.6 677.2 234.3 673.5 234 671.2C233.6 668.3 233.1 665.4 232.5 662.5C231.8 659.1 231.3 655.6 230 652.5C228.8 649.8 226.5 647.6 225 645C223.6 642.6 222.6 640 221.2 637.5C219.2 633.7 217.5 629.7 215 626.2C212.9 623.4 209.9 621.4 207.5 618.8C205.3 616.4 203.4 613.7 201.2 611.2C199.3 609.1 197.4 606.7 195 605C193.2 603.7 190.9 602.9 188.8 602.5C186.7 602.1 184.5 602 182.5 602.5C180.5 603 178.2 604.1 176.9 605.6C175.3 607.4 174.2 610.1 173.8 612.5C173.2 615.3 175.4 619.2 173.8 621.2Z" fill="#fff" stroke="#fff" stroke-width="0.1"/>
<path d="M174 621.2C173.8 618.3 173 615.3 173.5 612.5C173.9 610.1 175.2 607.4 176.9 605.6C178.2 604.1 180.5 603 182.5 602.5C184.5 602 186.7 602.1 188.8 602.5C190.9 602.9 193.2 603.7 195 605C197.4 606.7 199.3 609.1 201.2 611.2C203.4 613.7 205.3 616.4 207.5 618.8C209.9 621.4 212.9 623.4 215 626.2C217.5 629.7 219.1 633.8 221.2 637.5C222.9 640.4 224.6 643.3 226.2 646.2C227.5 648.3 229.1 650.3 230 652.5C231.2 655.7 231.8 659.1 232.5 662.5C233.1 665.4 233.6 668.3 234 671.2C234.3 673.5 234.2 675.8 234.4 678.1" fill="none" stroke="#000" stroke-width="4.7"/>
<path d="M186.2 608.8C189.2 610.8 192.5 612.5 195 615C198.3 618.3 201 622.4 203.8 626.2C206.9 630.7 209.8 635.3 212.5 640C215.2 644.9 217.8 649.9 220 655C221.7 659 223.1 663.3 224.4 667.5C225.2 670.4 225.6 673.3 226.2 676.2" fill="none" stroke="#000" stroke-width="2.6"/>
<path d="M181.2 610.6C182.9 611.2 184.9 611.4 186.2 612.5C189.5 615 192.5 618 195 621.2C198.7 625.9 201.9 631.1 205 636.2C208.2 641.5 211.1 647 213.8 652.5C216.1 657.4 218 662.5 220 667.5C221.1 670.4 222.1 673.3 223.1 676.2" fill="none" stroke="#000" stroke-width="2.4"/>
<path d="M179 613.8L179.8 620C181.9 620 184.5 619 186.2 620C189.6 621.9 192.5 625.5 195 628.8C198.3 633 201.2 637.7 203.8 642.5C206.2 646.9 208.2 651.5 210 656.2C211.4 659.9 212.5 663.7 213.1 667.5C213.4 669.1 213.1 671 212.5 672.5C212 673.7 210.8 674.6 210 675.6L206.2 675.6" fill="none" stroke="#000" stroke-width="3.5"/>
<path d="M179.8 620C180.3 620.9 181.5 621.8 181.5 622.8C181.5 623.9 180.5 625.1 180 626.2" fill="none" stroke="#000" stroke-width="2.8"/>
<path d="M174 621.5L160 630C159.2 631.7 157.8 633.2 157.5 635C157.1 637.4 157.6 640.1 158.1 642.5C158.9 645.9 160 649.2 161.2 652.5C161.9 654.2 162.9 655.8 163.8 657.5L171.9 653.8" fill="none" stroke="#000" stroke-width="4.7"/>
<path d="M163.8 636.2C164.4 635.8 165.1 634.5 165.6 634.8C167.1 635.5 168.5 637.8 170 639.4L163.8 643.1L163.8 636.2" fill="none" stroke="#000" stroke-width="2.8"/>
<path d="M168.8 632.5C171.2 635 174 637.3 176.2 640C179.4 643.9 182.4 648.1 185 652.5C187.8 657.3 190.3 662.4 192.5 667.5C193.9 670.7 194.7 674.1 195.6 677.5C196 678.9 196 680.4 196.2 681.9" fill="none" stroke="#000" stroke-width="4"/>
<path d="M170 645C172.5 648.3 175.1 651.6 177.5 655C179.7 658.2 181.9 661.5 183.8 665C185.7 668.6 187.1 672.5 188.8 676.2" fill="none" stroke="#000" stroke-width="3.1"/>
<path d="M172.5 671.9L180 668.1C182.9 671.2 186 674.2 188.8 677.5C190.2 679.2 191.2 681.2 192.5 683.1" fill="none" stroke="#000" stroke-width="3.1"/>
<path d="M172.5 672.5C174.6 675.4 176.4 678.6 178.8 681.2C181.4 684.2 184.2 687.5 187.5 689.4C189.2 690.4 191.7 689.8 193.8 690C195.8 688.8 198 687.6 200 686.2C202.2 684.7 204.2 682.9 206.2 681.2C208.3 682.9 210.2 685 212.5 686.2C214.6 687.3 217.1 687.5 219.4 688.1L220 683.1L213.1 678.8" fill="none" stroke="#000" stroke-width="4.7"/>
<path d="M443.8 873.8C436.8 883.4 428.5 892.5 422.5 902.5C421.2 904.6 421.7 907.6 422 910C422.5 913.4 423.6 916.9 425 920C426.2 922.7 428.3 925 430 927.5C433.7 932.9 437.3 938.5 441.2 943.8C443.9 947.3 446.5 951.2 450 953.8C452.8 955.8 456.8 958 460 957.5C465.1 956.7 469.9 950.8 475 950C478.2 949.5 481.6 953.3 485 953.8C488.6 954.2 493 953.8 496.2 952.5C498 951.8 499.5 949.4 500 947.5C500.8 944.4 500.6 940.7 500 937.5C499 932.4 497.2 927.3 495 922.5C492.2 916.4 488.4 910.8 485 905C481.8 899.5 478.9 893.7 475 888.8C471.4 884.1 467 879.9 462.5 876.2C459.5 873.8 456 871.5 452.5 870.5C450.2 869.8 447.1 870.5 445 871.2C444.2 871.5 444.3 873 443.8 873.8Z" fill="#fff" stroke="#fff" stroke-width="0.1"/>
<path d="M443.8 874.2C444.2 873.2 444.1 871.6 445 871.2C447 870.4 450.2 869.8 452.5 870.5C456 871.5 459.5 873.8 462.5 876.2C467 879.9 471.4 884.1 475 888.8C478.9 893.7 481.8 899.5 485 905C488.4 910.8 492.2 916.4 495 922.5C497.2 927.3 499 932.4 500 937.5C500.6 940.7 500.8 944.4 500 947.5C499.5 949.4 497.5 950.8 496.2 952.5C492.5 952.9 488.6 954.2 485 953.8C481.6 953.3 478.3 951.2 475 950" fill="none" stroke="#000" stroke-width="4.7"/>
<path d="M443.8 874.2C445 876.2 446 878.3 447.5 880C451.4 884.4 456.2 888 460 892.5C464.6 898 468.6 904 472.5 910C476.1 915.6 479.5 921.5 482.5 927.5C484.9 932.3 486.9 937.4 488.8 942.5C489.8 945.6 490.4 948.8 491.2 952" fill="none" stroke="#000" stroke-width="3.1"/>
<path d="M450 875.5C455 879.9 460.7 883.7 465 888.8C470.7 895.6 475.6 903.4 480 911.2C484.3 918.8 488 926.9 491.2 935C493 939.4 493.8 944.2 495 948.8" fill="none" stroke="#000" stroke-width="2.1"/>
<path d="M437.5 888L443.8 887.5L445 892" fill="none" stroke="#000" stroke-width="3.5"/>
<path d="M443 889.5L422.5 902.5C422.3 905 421.7 907.6 422 910C422.5 913.4 423.6 916.9 425 920C426.2 922.7 428.3 925 430 927.5L436.2 923.8" fill="none" stroke="#000" stroke-width="4.7"/>
<path d="M428.8 911.2C430 910 431.1 907.3 432.5 907.5C434.9 907.8 438.1 910.3 440 912.5C443.9 916.9 447.2 922.2 450 927.5C453 933.1 455.2 939.1 457.5 945C458.5 947.6 459.2 950.3 460 953" fill="none" stroke="#000" stroke-width="3.8"/>
<path d="M435 916.2C438.3 920.8 442.1 925.2 445 930C448.1 935.2 450.3 940.8 453 946.2" fill="none" stroke="#000" stroke-width="3.1"/>
<path d="M445 891.2C448.3 894.2 452.3 896.5 455 900C459.8 906.1 463.8 913.1 467.5 920C470.5 925.6 473 931.5 475 937.5C475.9 940 475.8 942.8 476.2 945.5L472.5 946.5L460 957.5C456.7 956.2 452.8 955.8 450 953.8C446.5 951.2 444.2 947.1 441.2 943.8L444.5 939" fill="none" stroke="#000" stroke-width="4.7"/>
<line x1="407.5" y1="953.8" x2="445" y2="930" stroke="#000" stroke-width="2.6"/>
<line x1="105" y1="740" x2="105" y2="911" stroke="#fff" stroke-width="9" style="stroke-linecap:butt"/>
<line x1="105" y1="740" x2="105" y2="911" stroke="#000" stroke-width="4" style="stroke-linecap:butt"/>
<line x1="228" y1="678" x2="228" y2="821" stroke="#fff" stroke-width="9" style="stroke-linecap:butt"/>
<line x1="228" y1="678" x2="228" y2="821" stroke="#000" stroke-width="4" style="stroke-linecap:butt"/>
<line x1="153" y1="959.3" x2="339" y2="960.6" stroke="#fff" stroke-width="9" style="stroke-linecap:butt"/>
<line x1="153" y1="959.3" x2="339" y2="960.6" stroke="#000" stroke-width="4" style="stroke-linecap:butt"/>
<line x1="275" y1="871" x2="438" y2="879" stroke="#fff" stroke-width="9" style="stroke-linecap:butt"/>
<line x1="275" y1="871" x2="438" y2="879" stroke="#000" stroke-width="4" style="stroke-linecap:butt"/>
<line x1="303.8" y1="351.2" x2="518.5" y2="301.6" stroke="#fff" stroke-width="9" style="stroke-linecap:butt"/>
<line x1="303.8" y1="351.2" x2="518.5" y2="301.6" stroke="#000" stroke-width="4" style="stroke-linecap:butt"/>
<line x1="303.8" y1="373.8" x2="779.5" y2="495.7" stroke="#fff" stroke-width="9" style="stroke-linecap:butt"/>
<line x1="303.8" y1="373.8" x2="779.5" y2="495.7" stroke="#000" stroke-width="4" style="stroke-linecap:butt"/>
<text x="240.3" y="383.6" font-size="61">3</text>
<text x="210.6" y="889.5" font-size="61">2</text>
<text x="89" y="979.6" font-size="61">1</text>
<rect x="91" y="974.2" width="12.2" height="7.4" fill="#fff"/>
<rect x="110.9" y="974.2" width="13" height="7.4" fill="#fff"/>

</svg>
</body></html>
